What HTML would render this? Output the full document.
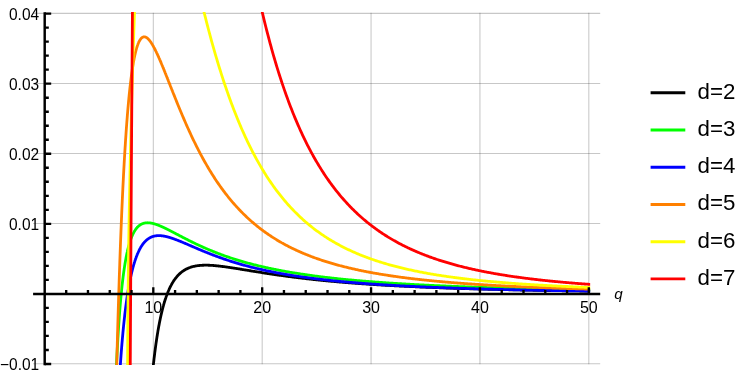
<!DOCTYPE html><html><head><meta charset="utf-8"><title>plot</title><style>
html,body{margin:0;padding:0;background:#fff;}
#w{position:relative;width:747px;height:375px;overflow:hidden;background:#fff;font-family:"Liberation Sans",sans-serif;color:#000;}
#tx{position:absolute;left:0;top:0;width:747px;height:375px;will-change:transform;}
.t{position:absolute;font-size:15.7px;line-height:16px;white-space:nowrap;transform:scaleY(1.05);transform-origin:50% 50%;}
.yl{width:39.15px;text-align:right;left:0;font-size:15.5px;}
.xl{width:40px;text-align:center;font-size:16px;}
.lg{position:absolute;font-size:22.3px;line-height:24px;left:697.5px;white-space:nowrap;}
</style></head><body><div id="w">
<svg width="747" height="375" viewBox="0 0 747 375" style="position:absolute;left:0;top:0">
<defs><clipPath id="c"><rect x="33.1" y="12.1" width="557.05" height="352.79999999999995"/></clipPath></defs>
<path d="M153.30,12.82 V364.27 M262.18,12.82 V364.27 M371.06,12.82 V364.27 M479.94,12.82 V364.27 M588.82,12.82 V364.27" stroke="#000" stroke-opacity="0.22" stroke-width="1.05" fill="none"/>
<path d="M33.1,13.37 H600.2 M33.1,83.44 H600.2 M33.1,153.51 H600.2 M33.1,223.58 H600.2 M33.1,363.72 H600.2" stroke="#000" stroke-opacity="0.22" stroke-width="1.05" fill="none"/>
<g clip-path="url(#c)" fill="none" stroke-width="2.8" stroke-linejoin="round">
<path d="M151.43,384.15 L151.51,383.18 L151.60,382.22 L151.69,381.27 L151.78,380.32 L151.87,379.38 L151.96,378.46 L152.05,377.54 L152.13,376.62 L152.22,375.72 L152.31,374.82 L152.40,373.94 L152.49,373.05 L152.58,372.18 L152.67,371.32 L152.75,370.46 L152.84,369.61 L152.93,368.77 L153.02,367.93 L153.11,367.10 L153.20,366.28 L153.29,365.47 L153.37,364.66 L153.46,363.86 L153.55,363.07 L153.64,362.28 L153.73,361.50 L153.82,360.73 L153.91,359.96 L153.99,359.20 L154.08,358.45 L154.17,357.70 L154.26,356.96 L154.35,356.22 L154.44,355.49 L154.53,354.77 L154.62,354.06 L154.70,353.35 L154.79,352.64 L154.88,351.94 L154.97,351.25 L155.06,350.57 L155.15,349.89 L155.24,349.21 L155.32,348.54 L155.41,347.88 L155.50,347.22 L155.59,346.57 L155.68,345.92 L155.77,345.28 L155.86,344.64 L155.94,344.01 L156.03,343.38 L156.12,342.76 L156.21,342.15 L156.30,341.54 L156.39,340.93 L156.48,340.33 L156.56,339.74 L156.65,339.15 L156.74,338.56 L156.83,337.98 L156.92,337.40 L157.01,336.83 L157.10,336.27 L157.18,335.70 L157.27,335.15 L157.36,334.59 L157.45,334.05 L157.54,333.50 L157.63,332.96 L157.72,332.43 L157.80,331.90 L157.89,331.37 L157.98,330.85 L158.07,330.33 L158.16,329.82 L158.25,329.31 L158.34,328.80 L158.42,328.30 L158.51,327.80 L158.60,327.31 L158.69,326.82 L158.78,326.34 L158.87,325.86 L158.96,325.38 L159.04,324.90 L159.13,324.43 L159.22,323.97 L159.31,323.51 L159.40,323.05 L159.49,322.59 L159.58,322.14 L159.66,321.69 L159.75,321.25 L159.84,320.81 L159.93,320.37 L160.02,319.94 L160.11,319.51 L160.20,319.08 L160.28,318.66 L160.37,318.23 L160.46,317.82 L160.55,317.40 L160.64,316.99 L160.73,316.59 L160.82,316.18 L160.90,315.78 L160.99,315.38 L161.08,314.99 L161.17,314.60 L161.26,314.21 L161.35,313.82 L161.44,313.44 L161.52,313.06 L161.61,312.69 L161.70,312.31 L161.79,311.94 L161.88,311.58 L161.97,311.21 L162.06,310.85 L162.14,310.49 L162.23,310.13 L162.32,309.78 L162.41,309.43 L162.50,309.08 L162.59,308.74 L162.68,308.39 L162.76,308.05 L162.85,307.71 L162.94,307.38 L163.03,307.05 L163.12,306.72 L163.21,306.39 L163.30,306.07 L163.38,305.74 L163.47,305.42 L163.56,305.11 L163.65,304.79 L163.74,304.48 L163.83,304.17 L163.92,303.86 L164.00,303.56 L164.09,303.25 L164.18,302.95 L164.27,302.65 L164.36,302.36 L164.45,302.06 L164.54,301.77 L164.62,301.48 L164.71,301.20 L164.80,300.91 L164.89,300.63 L164.98,300.35 L165.07,300.07 L165.16,299.79 L165.24,299.52 L165.33,299.25 L165.42,298.97 L165.51,298.71 L165.60,298.44 L165.69,298.18 L165.78,297.91 L165.86,297.65 L165.95,297.40 L166.04,297.14 L166.13,296.88 L166.22,296.63 L166.31,296.38 L166.40,296.13 L166.48,295.89 L166.57,295.64 L166.66,295.40 L166.75,295.16 L166.84,294.92 L166.93,294.68 L167.02,294.44 L167.10,294.21 L167.19,293.98 L167.28,293.75 L167.37,293.52 L167.46,293.29 L167.55,293.06 L167.64,292.84 L167.72,292.62 L167.81,292.40 L167.90,292.18 L167.99,291.96 L168.08,291.75 L168.17,291.53 L168.26,291.32 L168.34,291.11 L168.43,290.90 L168.52,290.69 L168.61,290.48 L168.70,290.28 L168.79,290.08 L168.88,289.87 L168.96,289.67 L169.05,289.48 L169.14,289.28 L169.23,289.08 L169.32,288.89 L169.41,288.69 L169.50,288.50 L169.58,288.31 L169.67,288.12 L169.76,287.94 L169.85,287.75 L169.94,287.57 L170.03,287.38 L170.12,287.20 L170.20,287.02 L170.29,286.84 L170.38,286.66 L170.47,286.49 L170.56,286.31 L170.65,286.14 L170.74,285.97 L170.82,285.79 L170.91,285.62 L171.00,285.46 L171.09,285.29 L171.18,285.12 L171.27,284.96 L171.36,284.79 L171.44,284.63 L171.53,284.47 L171.62,284.31 L171.71,284.15 L171.80,283.99 L171.89,283.83 L171.98,283.68 L172.06,283.52 L172.15,283.37 L172.24,283.22 L172.33,283.07 L172.42,282.92 L172.51,282.77 L172.60,282.62 L172.68,282.47 L172.77,282.33 L172.86,282.18 L172.95,282.04 L173.04,281.90 L173.13,281.75 L173.22,281.61 L173.30,281.47 L173.39,281.34 L173.48,281.20 L173.57,281.06 L173.66,280.93 L173.75,280.79 L173.84,280.66 L173.92,280.53 L174.01,280.39 L174.10,280.26 L174.19,280.13 L174.28,280.01 L174.37,279.88 L174.46,279.75 L174.54,279.63 L174.63,279.50 L174.72,279.38 L174.81,279.25 L174.90,279.13 L174.99,279.01 L175.08,278.89 L175.91,277.80 L176.75,276.78 L177.58,275.83 L178.41,274.95 L179.25,274.12 L180.08,273.35 L180.92,272.64 L181.75,271.97 L182.59,271.35 L183.42,270.78 L184.26,270.24 L185.09,269.75 L185.93,269.29 L186.76,268.86 L187.60,268.47 L188.43,268.11 L189.26,267.77 L190.10,267.47 L190.93,267.19 L191.77,266.93 L192.60,266.70 L193.44,266.48 L194.27,266.29 L195.11,266.12 L195.94,265.96 L196.78,265.82 L197.61,265.70 L198.44,265.60 L199.28,265.50 L200.11,265.42 L200.95,265.36 L201.78,265.31 L202.62,265.26 L203.45,265.23 L204.29,265.21 L205.12,265.20 L205.96,265.20 L206.79,265.21 L207.63,265.22 L208.46,265.24 L209.29,265.27 L210.13,265.31 L210.96,265.36 L211.80,265.41 L212.63,265.46 L213.47,265.52 L214.30,265.59 L215.14,265.66 L215.97,265.74 L216.81,265.82 L217.64,265.90 L218.48,265.99 L219.31,266.09 L220.14,266.18 L220.98,266.28 L221.81,266.38 L222.65,266.49 L223.48,266.60 L224.32,266.71 L225.15,266.82 L225.99,266.94 L226.82,267.05 L227.66,267.17 L228.49,267.29 L229.33,267.42 L230.16,267.54 L230.99,267.67 L231.83,267.79 L232.66,267.92 L233.50,268.05 L234.33,268.18 L235.17,268.31 L236.00,268.44 L236.84,268.58 L237.67,268.71 L238.51,268.84 L239.34,268.98 L240.17,269.11 L241.01,269.25 L241.84,269.38 L242.68,269.52 L243.51,269.66 L244.35,269.79 L245.18,269.93 L246.02,270.07 L246.85,270.20 L247.69,270.34 L248.52,270.48 L249.36,270.61 L250.19,270.75 L251.02,270.88 L251.86,271.02 L252.69,271.16 L253.53,271.29 L254.36,271.43 L255.20,271.56 L256.03,271.70 L256.87,271.83 L257.70,271.96 L258.54,272.10 L259.37,272.23 L260.21,272.36 L261.04,272.49 L261.87,272.63 L262.71,272.76 L263.54,272.89 L264.38,273.02 L265.21,273.15 L266.05,273.28 L266.88,273.40 L267.72,273.53 L268.55,273.66 L269.39,273.78 L270.22,273.91 L271.06,274.04 L271.89,274.16 L272.72,274.28 L273.56,274.41 L274.39,274.53 L275.23,274.65 L276.06,274.77 L276.90,274.89 L277.73,275.01 L278.57,275.13 L279.40,275.25 L280.24,275.37 L281.07,275.48 L281.90,275.60 L282.74,275.72 L283.57,275.83 L284.41,275.95 L285.24,276.06 L286.08,276.17 L286.91,276.28 L287.75,276.40 L288.58,276.51 L289.42,276.62 L290.25,276.73 L291.09,276.83 L291.92,276.94 L292.75,277.05 L293.59,277.16 L294.42,277.26 L295.26,277.37 L296.09,277.47 L296.93,277.57 L297.76,277.68 L298.60,277.78 L299.43,277.88 L300.27,277.98 L301.10,278.08 L301.94,278.18 L302.77,278.28 L303.60,278.38 L304.44,278.47 L305.27,278.57 L306.11,278.67 L306.94,278.76 L307.78,278.86 L308.61,278.95 L309.45,279.04 L310.28,279.14 L311.12,279.23 L311.95,279.32 L312.79,279.41 L313.62,279.50 L314.45,279.59 L315.29,279.68 L316.12,279.77 L316.96,279.85 L317.79,279.94 L318.63,280.03 L319.46,280.11 L320.30,280.20 L321.13,280.28 L321.97,280.37 L322.80,280.45 L323.64,280.53 L324.47,280.61 L325.30,280.69 L326.14,280.78 L326.97,280.86 L327.81,280.93 L328.64,281.01 L329.48,281.09 L330.31,281.17 L331.15,281.25 L331.98,281.32 L332.82,281.40 L333.65,281.48 L334.48,281.55 L335.32,281.63 L336.15,281.70 L336.99,281.77 L337.82,281.85 L338.66,281.92 L339.49,281.99 L340.33,282.06 L341.16,282.13 L342.00,282.20 L342.83,282.27 L343.67,282.34 L344.50,282.41 L345.33,282.48 L346.17,282.55 L347.00,282.61 L347.84,282.68 L348.67,282.75 L349.51,282.81 L350.34,282.88 L351.18,282.94 L352.01,283.01 L352.85,283.07 L353.68,283.13 L354.52,283.20 L355.35,283.26 L356.18,283.32 L357.02,283.38 L357.85,283.44 L358.69,283.50 L359.52,283.56 L360.36,283.62 L361.19,283.68 L362.03,283.74 L362.86,283.80 L363.70,283.86 L364.53,283.92 L365.37,283.97 L366.20,284.03 L367.03,284.09 L367.87,284.14 L368.70,284.20 L369.54,284.25 L370.37,284.31 L371.21,284.36 L372.04,284.42 L372.88,284.47 L373.71,284.52 L374.55,284.58 L375.38,284.63 L376.21,284.68 L377.05,284.73 L377.88,284.79 L378.72,284.84 L379.55,284.89 L380.39,284.94 L381.22,284.99 L382.06,285.04 L382.89,285.09 L383.73,285.14 L384.56,285.18 L385.40,285.23 L386.23,285.28 L387.06,285.33 L387.90,285.37 L388.73,285.42 L389.57,285.47 L390.40,285.51 L391.24,285.56 L392.07,285.61 L392.91,285.65 L393.74,285.70 L394.58,285.74 L395.41,285.78 L396.25,285.83 L397.08,285.87 L397.91,285.92 L398.75,285.96 L399.58,286.00 L400.42,286.04 L401.25,286.09 L402.09,286.13 L402.92,286.17 L403.76,286.21 L404.59,286.25 L405.43,286.29 L406.26,286.33 L407.10,286.37 L407.93,286.41 L408.76,286.45 L409.60,286.49 L410.43,286.53 L411.27,286.57 L412.10,286.61 L412.94,286.65 L413.77,286.69 L414.61,286.72 L415.44,286.76 L416.28,286.80 L417.11,286.84 L417.94,286.87 L418.78,286.91 L419.61,286.95 L420.45,286.98 L421.28,287.02 L422.12,287.05 L422.95,287.09 L423.79,287.12 L424.62,287.16 L425.46,287.19 L426.29,287.23 L427.13,287.26 L427.96,287.30 L428.79,287.33 L429.63,287.36 L430.46,287.40 L431.30,287.43 L432.13,287.46 L432.97,287.49 L433.80,287.53 L434.64,287.56 L435.47,287.59 L436.31,287.62 L437.14,287.65 L437.98,287.69 L438.81,287.72 L439.64,287.75 L440.48,287.78 L441.31,287.81 L442.15,287.84 L442.98,287.87 L443.82,287.90 L444.65,287.93 L445.49,287.96 L446.32,287.99 L447.16,288.02 L447.99,288.05 L448.83,288.08 L449.66,288.10 L450.49,288.13 L451.33,288.16 L452.16,288.19 L453.00,288.22 L453.83,288.24 L454.67,288.27 L455.50,288.30 L456.34,288.33 L457.17,288.35 L458.01,288.38 L458.84,288.41 L459.68,288.43 L460.51,288.46 L461.34,288.49 L462.18,288.51 L463.01,288.54 L463.85,288.56 L464.68,288.59 L465.52,288.61 L466.35,288.64 L467.19,288.66 L468.02,288.69 L468.86,288.71 L469.69,288.74 L470.52,288.76 L471.36,288.79 L472.19,288.81 L473.03,288.84 L473.86,288.86 L474.70,288.88 L475.53,288.91 L476.37,288.93 L477.20,288.95 L478.04,288.98 L478.87,289.00 L479.71,289.02 L480.54,289.04 L481.37,289.07 L482.21,289.09 L483.04,289.11 L483.88,289.13 L484.71,289.16 L485.55,289.18 L486.38,289.20 L487.22,289.22 L488.05,289.24 L488.89,289.26 L489.72,289.29 L490.56,289.31 L491.39,289.33 L492.22,289.35 L493.06,289.37 L493.89,289.39 L494.73,289.41 L495.56,289.43 L496.40,289.45 L497.23,289.47 L498.07,289.49 L498.90,289.51 L499.74,289.53 L500.57,289.55 L501.41,289.57 L502.24,289.59 L503.07,289.61 L503.91,289.63 L504.74,289.65 L505.58,289.66 L506.41,289.68 L507.25,289.70 L508.08,289.72 L508.92,289.74 L509.75,289.76 L510.59,289.78 L511.42,289.79 L512.25,289.81 L513.09,289.83 L513.92,289.85 L514.76,289.87 L515.59,289.88 L516.43,289.90 L517.26,289.92 L518.10,289.94 L518.93,289.95 L519.77,289.97 L520.60,289.99 L521.44,290.00 L522.27,290.02 L523.10,290.04 L523.94,290.05 L524.77,290.07 L525.61,290.09 L526.44,290.10 L527.28,290.12 L528.11,290.14 L528.95,290.15 L529.78,290.17 L530.62,290.18 L531.45,290.20 L532.29,290.22 L533.12,290.23 L533.95,290.25 L534.79,290.26 L535.62,290.28 L536.46,290.29 L537.29,290.31 L538.13,290.32 L538.96,290.34 L539.80,290.35 L540.63,290.37 L541.47,290.38 L542.30,290.40 L543.14,290.41 L543.97,290.43 L544.80,290.44 L545.64,290.46 L546.47,290.47 L547.31,290.49 L548.14,290.50 L548.98,290.51 L549.81,290.53 L550.65,290.54 L551.48,290.56 L552.32,290.57 L553.15,290.58 L553.98,290.60 L554.82,290.61 L555.65,290.62 L556.49,290.64 L557.32,290.65 L558.16,290.66 L558.99,290.68 L559.83,290.69 L560.66,290.70 L561.50,290.72 L562.33,290.73 L563.17,290.74 L564.00,290.75 L564.83,290.77 L565.67,290.78 L566.50,290.79 L567.34,290.80 L568.17,290.82 L569.01,290.83 L569.84,290.84 L570.68,290.85 L571.51,290.87 L572.35,290.88 L573.18,290.89 L574.02,290.90 L574.85,290.91 L575.68,290.93 L576.52,290.94 L577.35,290.95 L578.19,290.96 L579.02,290.97 L579.86,290.98 L580.69,291.00 L581.53,291.01 L582.36,291.02 L583.20,291.03 L584.03,291.04 L584.87,291.05 L585.70,291.06 L586.53,291.07 L587.37,291.09 L588.20,291.10 L589.04,291.11 L589.87,291.12 L590.71,291.13 L591.54,291.14" stroke="#000000"/>
<path d="M115.64,383.52 L115.73,381.42 L115.82,379.34 L115.91,377.30 L116.00,375.28 L116.08,373.29 L116.17,371.33 L116.26,369.40 L116.35,367.49 L116.44,365.61 L116.53,363.76 L116.62,361.93 L116.70,360.12 L116.79,358.34 L116.88,356.59 L116.97,354.86 L117.06,353.15 L117.15,351.47 L117.24,349.81 L117.32,348.17 L117.41,346.55 L117.50,344.96 L117.59,343.38 L117.68,341.83 L117.77,340.30 L117.86,338.79 L117.94,337.30 L118.03,335.83 L118.12,334.38 L118.21,332.95 L118.30,331.53 L118.39,330.14 L118.48,328.77 L118.56,327.41 L118.65,326.07 L118.74,324.75 L118.83,323.44 L118.92,322.16 L119.01,320.89 L119.10,319.63 L119.18,318.40 L119.27,317.18 L119.36,315.97 L119.45,314.78 L119.54,313.61 L119.63,312.45 L119.72,311.31 L119.80,310.18 L119.89,309.06 L119.98,307.96 L120.07,306.88 L120.16,305.81 L120.25,304.75 L120.34,303.70 L120.42,302.67 L120.51,301.65 L120.60,300.65 L120.69,299.66 L120.78,298.68 L120.87,297.71 L120.96,296.76 L121.04,295.81 L121.13,294.88 L121.22,293.96 L121.31,293.06 L121.40,292.16 L121.49,291.27 L121.58,290.40 L121.66,289.54 L121.75,288.69 L121.84,287.85 L121.93,287.01 L122.02,286.19 L122.11,285.38 L122.20,284.58 L122.28,283.79 L122.37,283.01 L122.46,282.24 L122.55,281.48 L122.64,280.73 L122.73,279.99 L122.82,279.25 L122.90,278.53 L122.99,277.81 L123.08,277.11 L123.17,276.41 L123.26,275.72 L123.35,275.04 L123.44,274.36 L123.52,273.70 L123.61,273.04 L123.70,272.40 L123.79,271.75 L123.88,271.12 L123.97,270.50 L124.06,269.88 L124.14,269.27 L124.23,268.67 L124.32,268.07 L124.41,267.48 L124.50,266.90 L124.59,266.33 L124.68,265.76 L124.76,265.20 L124.85,264.65 L124.94,264.10 L125.03,263.56 L125.12,263.03 L125.21,262.50 L125.30,261.98 L125.39,261.46 L125.47,260.96 L125.56,260.45 L125.65,259.96 L125.74,259.47 L125.83,258.98 L125.92,258.50 L126.01,258.03 L126.09,257.56 L126.18,257.10 L126.27,256.64 L126.36,256.19 L126.45,255.75 L126.54,255.31 L126.63,254.87 L126.71,254.44 L126.80,254.02 L126.89,253.60 L126.98,253.18 L127.07,252.77 L127.16,252.37 L127.25,251.97 L127.33,251.57 L127.42,251.18 L127.51,250.79 L127.60,250.41 L127.69,250.03 L127.78,249.66 L127.87,249.29 L127.95,248.93 L128.04,248.57 L128.13,248.21 L128.22,247.86 L128.31,247.52 L128.40,247.17 L128.49,246.83 L128.57,246.50 L128.66,246.17 L128.75,245.84 L128.84,245.52 L128.93,245.20 L129.02,244.88 L129.11,244.57 L129.19,244.26 L129.28,243.96 L129.37,243.66 L129.46,243.36 L129.55,243.07 L129.64,242.78 L129.73,242.49 L129.81,242.21 L129.90,241.93 L129.99,241.65 L130.08,241.38 L130.17,241.11 L130.26,240.84 L130.35,240.58 L130.43,240.32 L130.52,240.06 L130.61,239.80 L130.70,239.55 L130.79,239.30 L130.88,239.06 L130.97,238.82 L131.05,238.58 L131.14,238.34 L131.23,238.11 L131.32,237.87 L131.41,237.65 L131.50,237.42 L131.59,237.20 L131.67,236.98 L131.76,236.76 L131.85,236.54 L131.94,236.33 L132.03,236.12 L132.12,235.92 L132.21,235.71 L132.29,235.51 L132.38,235.31 L132.47,235.11 L132.56,234.92 L132.65,234.72 L132.74,234.53 L132.83,234.35 L132.91,234.16 L133.00,233.98 L133.09,233.80 L133.18,233.62 L133.27,233.44 L133.36,233.27 L133.45,233.09 L133.53,232.92 L133.62,232.76 L133.71,232.59 L133.80,232.43 L133.89,232.26 L133.98,232.10 L134.07,231.95 L134.15,231.79 L134.24,231.64 L134.33,231.49 L134.42,231.34 L134.51,231.19 L134.60,231.04 L134.69,230.90 L134.77,230.75 L134.86,230.61 L134.95,230.47 L135.04,230.34 L135.13,230.20 L135.22,230.07 L135.31,229.94 L135.39,229.81 L135.48,229.68 L135.57,229.55 L135.66,229.43 L135.75,229.30 L135.84,229.18 L135.93,229.06 L136.01,228.94 L136.10,228.83 L136.19,228.71 L136.28,228.60 L136.37,228.49 L136.46,228.37 L136.55,228.26 L136.63,228.16 L136.72,228.05 L136.81,227.95 L136.90,227.84 L136.99,227.74 L137.08,227.64 L137.17,227.54 L137.25,227.44 L137.34,227.35 L137.43,227.25 L137.52,227.16 L137.61,227.07 L137.70,226.97 L137.79,226.88 L137.87,226.80 L137.96,226.71 L138.05,226.62 L138.14,226.54 L138.23,226.46 L138.32,226.37 L138.41,226.29 L138.49,226.21 L138.58,226.13 L138.67,226.06 L138.76,225.98 L138.85,225.91 L138.94,225.83 L139.03,225.76 L139.11,225.69 L139.20,225.62 L139.29,225.55 L139.38,225.48 L139.47,225.41 L139.56,225.35 L139.65,225.28 L139.73,225.22 L139.82,225.15 L139.91,225.09 L140.00,225.03 L140.09,224.97 L140.18,224.91 L140.27,224.86 L140.35,224.80 L140.44,224.74 L140.53,224.69 L140.62,224.63 L140.71,224.58 L140.80,224.53 L140.89,224.48 L140.97,224.43 L141.06,224.38 L141.15,224.33 L141.24,224.28 L141.33,224.24 L141.42,224.19 L141.51,224.15 L141.59,224.10 L141.68,224.06 L141.77,224.02 L141.86,223.98 L141.95,223.93 L142.04,223.89 L142.13,223.86 L142.21,223.82 L142.30,223.78 L142.39,223.74 L142.48,223.71 L142.57,223.67 L142.66,223.64 L142.75,223.61 L142.83,223.57 L142.92,223.54 L143.01,223.51 L143.10,223.48 L143.19,223.45 L143.28,223.42 L143.37,223.39 L143.45,223.37 L143.54,223.34 L143.63,223.31 L143.72,223.29 L143.81,223.26 L143.90,223.24 L143.99,223.22 L144.07,223.19 L144.16,223.17 L144.25,223.15 L144.34,223.13 L144.43,223.11 L144.52,223.09 L144.61,223.07 L144.69,223.05 L144.78,223.04 L144.87,223.02 L144.96,223.00 L145.05,222.99 L145.14,222.97 L145.23,222.96 L145.31,222.94 L145.40,222.93 L145.49,222.92 L145.58,222.91 L145.67,222.89 L145.76,222.88 L145.85,222.87 L145.93,222.86 L146.02,222.85 L146.11,222.84 L146.20,222.84 L146.29,222.83 L146.38,222.82 L146.47,222.81 L146.55,222.81 L146.64,222.80 L146.73,222.80 L146.82,222.79 L146.91,222.79 L147.00,222.79 L147.09,222.78 L147.17,222.78 L147.26,222.78 L147.35,222.78 L147.44,222.77 L147.53,222.77 L147.62,222.77 L147.71,222.77 L147.79,222.77 L147.88,222.78 L147.97,222.78 L148.06,222.78 L148.15,222.78 L148.24,222.78 L148.33,222.79 L148.41,222.79 L148.50,222.80 L148.59,222.80 L148.68,222.81 L148.77,222.81 L148.86,222.82 L148.95,222.82 L149.03,222.83 L149.12,222.84 L149.21,222.84 L149.30,222.85 L149.39,222.86 L149.48,222.87 L149.57,222.88 L149.65,222.89 L149.74,222.90 L149.83,222.91 L149.92,222.92 L150.01,222.93 L150.10,222.94 L150.19,222.95 L150.27,222.96 L150.36,222.98 L150.45,222.99 L150.54,223.00 L150.63,223.02 L150.72,223.03 L150.81,223.04 L150.89,223.06 L150.98,223.07 L151.07,223.09 L151.16,223.10 L151.25,223.12 L151.34,223.14 L151.43,223.15 L151.51,223.17 L151.60,223.19 L151.69,223.20 L151.78,223.22 L151.87,223.24 L151.96,223.26 L152.05,223.28 L152.13,223.30 L152.22,223.31 L152.31,223.33 L152.40,223.35 L152.49,223.37 L152.58,223.39 L152.67,223.41 L152.75,223.44 L152.84,223.46 L152.93,223.48 L153.02,223.50 L153.11,223.52 L153.20,223.54 L153.29,223.57 L153.37,223.59 L153.46,223.61 L153.55,223.64 L153.64,223.66 L153.73,223.68 L153.82,223.71 L153.91,223.73 L153.99,223.76 L154.08,223.78 L154.17,223.81 L154.26,223.83 L154.35,223.86 L154.44,223.88 L154.53,223.91 L154.62,223.93 L154.70,223.96 L154.79,223.99 L154.88,224.01 L154.97,224.04 L155.06,224.07 L155.15,224.10 L155.24,224.12 L155.32,224.15 L155.41,224.18 L155.50,224.21 L155.59,224.24 L155.68,224.27 L155.77,224.29 L155.86,224.32 L155.94,224.35 L156.03,224.38 L156.12,224.41 L156.21,224.44 L156.30,224.47 L156.39,224.50 L156.48,224.53 L156.56,224.57 L156.65,224.60 L156.74,224.63 L156.83,224.66 L156.92,224.69 L157.01,224.72 L157.10,224.75 L157.18,224.79 L157.27,224.82 L157.36,224.85 L157.45,224.88 L157.54,224.92 L157.63,224.95 L157.72,224.98 L157.80,225.02 L157.89,225.05 L157.98,225.08 L158.07,225.12 L158.16,225.15 L158.25,225.18 L158.34,225.22 L158.42,225.25 L158.51,225.29 L158.60,225.32 L158.69,225.36 L158.78,225.39 L158.87,225.43 L158.96,225.46 L159.04,225.50 L159.13,225.53 L159.22,225.57 L159.31,225.60 L159.40,225.64 L159.49,225.68 L159.58,225.71 L159.66,225.75 L159.75,225.79 L159.84,225.82 L159.93,225.86 L160.02,225.90 L160.11,225.93 L160.20,225.97 L160.28,226.01 L160.37,226.05 L160.46,226.08 L160.55,226.12 L160.64,226.16 L160.73,226.20 L160.82,226.23 L160.90,226.27 L160.99,226.31 L161.08,226.35 L161.17,226.39 L161.26,226.43 L161.35,226.47 L161.44,226.50 L161.52,226.54 L161.61,226.58 L161.70,226.62 L161.79,226.66 L161.88,226.70 L161.97,226.74 L162.06,226.78 L162.14,226.82 L162.23,226.86 L162.32,226.90 L162.41,226.94 L162.50,226.98 L162.59,227.02 L162.68,227.06 L162.76,227.10 L162.85,227.14 L162.94,227.18 L163.03,227.22 L163.12,227.26 L163.21,227.30 L163.30,227.34 L163.38,227.39 L163.47,227.43 L163.56,227.47 L163.65,227.51 L163.74,227.55 L163.83,227.59 L163.92,227.63 L164.00,227.68 L164.09,227.72 L164.18,227.76 L164.27,227.80 L164.36,227.84 L164.45,227.88 L164.54,227.93 L164.62,227.97 L164.71,228.01 L164.80,228.05 L164.89,228.10 L164.98,228.14 L165.07,228.18 L165.16,228.22 L165.24,228.27 L165.33,228.31 L165.42,228.35 L165.51,228.40 L165.60,228.44 L165.69,228.48 L165.78,228.52 L165.86,228.57 L165.95,228.61 L166.04,228.65 L166.13,228.70 L166.22,228.74 L166.31,228.78 L166.40,228.83 L166.48,228.87 L166.57,228.91 L166.66,228.96 L166.75,229.00 L166.84,229.05 L166.93,229.09 L167.02,229.13 L167.10,229.18 L167.19,229.22 L167.28,229.27 L167.37,229.31 L167.46,229.35 L167.55,229.40 L167.64,229.44 L167.72,229.49 L167.81,229.53 L167.90,229.58 L167.99,229.62 L168.08,229.66 L168.17,229.71 L168.26,229.75 L168.34,229.80 L168.43,229.84 L168.52,229.89 L168.61,229.93 L168.70,229.98 L168.79,230.02 L168.88,230.07 L168.96,230.11 L169.05,230.16 L169.14,230.20 L169.23,230.25 L169.32,230.29 L169.41,230.34 L169.50,230.38 L169.58,230.43 L169.67,230.47 L169.76,230.52 L169.85,230.56 L169.94,230.61 L170.03,230.65 L170.12,230.70 L170.20,230.75 L170.29,230.79 L170.38,230.84 L170.47,230.88 L170.56,230.93 L170.65,230.97 L170.74,231.02 L170.82,231.06 L170.91,231.11 L171.00,231.16 L171.09,231.20 L171.18,231.25 L171.27,231.29 L171.36,231.34 L171.44,231.38 L171.53,231.43 L171.62,231.48 L171.71,231.52 L171.80,231.57 L171.89,231.61 L171.98,231.66 L172.06,231.71 L172.15,231.75 L172.24,231.80 L172.33,231.84 L172.42,231.89 L172.51,231.94 L172.60,231.98 L172.68,232.03 L172.77,232.07 L172.86,232.12 L172.95,232.17 L173.04,232.21 L173.13,232.26 L173.22,232.31 L173.30,232.35 L173.39,232.40 L173.48,232.44 L173.57,232.49 L173.66,232.54 L173.75,232.58 L173.84,232.63 L173.92,232.68 L174.01,232.72 L174.10,232.77 L174.19,232.82 L174.28,232.86 L174.37,232.91 L174.46,232.95 L174.54,233.00 L174.63,233.05 L174.72,233.09 L174.81,233.14 L174.90,233.19 L174.99,233.23 L175.08,233.28 L175.91,233.72 L176.75,234.16 L177.58,234.59 L178.41,235.03 L179.25,235.47 L180.08,235.91 L180.92,236.34 L181.75,236.78 L182.59,237.21 L183.42,237.65 L184.26,238.08 L185.09,238.51 L185.93,238.93 L186.76,239.36 L187.60,239.78 L188.43,240.21 L189.26,240.63 L190.10,241.04 L190.93,241.46 L191.77,241.87 L192.60,242.28 L193.44,242.69 L194.27,243.09 L195.11,243.49 L195.94,243.89 L196.78,244.29 L197.61,244.68 L198.44,245.07 L199.28,245.46 L200.11,245.84 L200.95,246.22 L201.78,246.60 L202.62,246.98 L203.45,247.35 L204.29,247.72 L205.12,248.09 L205.96,248.45 L206.79,248.81 L207.63,249.17 L208.46,249.52 L209.29,249.88 L210.13,250.22 L210.96,250.57 L211.80,250.91 L212.63,251.25 L213.47,251.59 L214.30,251.92 L215.14,252.25 L215.97,252.58 L216.81,252.91 L217.64,253.23 L218.48,253.55 L219.31,253.86 L220.14,254.17 L220.98,254.48 L221.81,254.79 L222.65,255.10 L223.48,255.40 L224.32,255.70 L225.15,255.99 L225.99,256.29 L226.82,256.58 L227.66,256.86 L228.49,257.15 L229.33,257.43 L230.16,257.71 L230.99,257.99 L231.83,258.26 L232.66,258.53 L233.50,258.80 L234.33,259.07 L235.17,259.33 L236.00,259.60 L236.84,259.86 L237.67,260.11 L238.51,260.37 L239.34,260.62 L240.17,260.87 L241.01,261.12 L241.84,261.36 L242.68,261.60 L243.51,261.84 L244.35,262.08 L245.18,262.32 L246.02,262.55 L246.85,262.78 L247.69,263.01 L248.52,263.24 L249.36,263.46 L250.19,263.69 L251.02,263.91 L251.86,264.13 L252.69,264.34 L253.53,264.56 L254.36,264.77 L255.20,264.98 L256.03,265.19 L256.87,265.39 L257.70,265.60 L258.54,265.80 L259.37,266.00 L260.21,266.20 L261.04,266.40 L261.87,266.59 L262.71,266.79 L263.54,266.98 L264.38,267.17 L265.21,267.35 L266.05,267.54 L266.88,267.73 L267.72,267.91 L268.55,268.09 L269.39,268.27 L270.22,268.45 L271.06,268.62 L271.89,268.80 L272.72,268.97 L273.56,269.14 L274.39,269.31 L275.23,269.48 L276.06,269.65 L276.90,269.81 L277.73,269.98 L278.57,270.14 L279.40,270.30 L280.24,270.46 L281.07,270.62 L281.90,270.77 L282.74,270.93 L283.57,271.08 L284.41,271.23 L285.24,271.38 L286.08,271.53 L286.91,271.68 L287.75,271.83 L288.58,271.97 L289.42,272.12 L290.25,272.26 L291.09,272.40 L291.92,272.54 L292.75,272.68 L293.59,272.82 L294.42,272.96 L295.26,273.09 L296.09,273.23 L296.93,273.36 L297.76,273.49 L298.60,273.62 L299.43,273.75 L300.27,273.88 L301.10,274.01 L301.94,274.14 L302.77,274.26 L303.60,274.39 L304.44,274.51 L305.27,274.63 L306.11,274.75 L306.94,274.87 L307.78,274.99 L308.61,275.11 L309.45,275.23 L310.28,275.34 L311.12,275.46 L311.95,275.57 L312.79,275.69 L313.62,275.80 L314.45,275.91 L315.29,276.02 L316.12,276.13 L316.96,276.24 L317.79,276.35 L318.63,276.45 L319.46,276.56 L320.30,276.66 L321.13,276.77 L321.97,276.87 L322.80,276.97 L323.64,277.07 L324.47,277.18 L325.30,277.28 L326.14,277.37 L326.97,277.47 L327.81,277.57 L328.64,277.67 L329.48,277.76 L330.31,277.86 L331.15,277.95 L331.98,278.05 L332.82,278.14 L333.65,278.23 L334.48,278.32 L335.32,278.41 L336.15,278.50 L336.99,278.59 L337.82,278.68 L338.66,278.77 L339.49,278.85 L340.33,278.94 L341.16,279.03 L342.00,279.11 L342.83,279.20 L343.67,279.28 L344.50,279.36 L345.33,279.45 L346.17,279.53 L347.00,279.61 L347.84,279.69 L348.67,279.77 L349.51,279.85 L350.34,279.93 L351.18,280.00 L352.01,280.08 L352.85,280.16 L353.68,280.23 L354.52,280.31 L355.35,280.39 L356.18,280.46 L357.02,280.53 L357.85,280.61 L358.69,280.68 L359.52,280.75 L360.36,280.82 L361.19,280.90 L362.03,280.97 L362.86,281.04 L363.70,281.11 L364.53,281.17 L365.37,281.24 L366.20,281.31 L367.03,281.38 L367.87,281.45 L368.70,281.51 L369.54,281.58 L370.37,281.64 L371.21,281.71 L372.04,281.77 L372.88,281.84 L373.71,281.90 L374.55,281.97 L375.38,282.03 L376.21,282.09 L377.05,282.15 L377.88,282.21 L378.72,282.27 L379.55,282.33 L380.39,282.39 L381.22,282.45 L382.06,282.51 L382.89,282.57 L383.73,282.63 L384.56,282.69 L385.40,282.75 L386.23,282.80 L387.06,282.86 L387.90,282.92 L388.73,282.97 L389.57,283.03 L390.40,283.08 L391.24,283.14 L392.07,283.19 L392.91,283.25 L393.74,283.30 L394.58,283.35 L395.41,283.41 L396.25,283.46 L397.08,283.51 L397.91,283.56 L398.75,283.61 L399.58,283.67 L400.42,283.72 L401.25,283.77 L402.09,283.82 L402.92,283.87 L403.76,283.92 L404.59,283.96 L405.43,284.01 L406.26,284.06 L407.10,284.11 L407.93,284.16 L408.76,284.20 L409.60,284.25 L410.43,284.30 L411.27,284.34 L412.10,284.39 L412.94,284.44 L413.77,284.48 L414.61,284.53 L415.44,284.57 L416.28,284.62 L417.11,284.66 L417.94,284.70 L418.78,284.75 L419.61,284.79 L420.45,284.84 L421.28,284.88 L422.12,284.92 L422.95,284.96 L423.79,285.00 L424.62,285.05 L425.46,285.09 L426.29,285.13 L427.13,285.17 L427.96,285.21 L428.79,285.25 L429.63,285.29 L430.46,285.33 L431.30,285.37 L432.13,285.41 L432.97,285.45 L433.80,285.49 L434.64,285.53 L435.47,285.57 L436.31,285.60 L437.14,285.64 L437.98,285.68 L438.81,285.72 L439.64,285.75 L440.48,285.79 L441.31,285.83 L442.15,285.86 L442.98,285.90 L443.82,285.94 L444.65,285.97 L445.49,286.01 L446.32,286.04 L447.16,286.08 L447.99,286.11 L448.83,286.15 L449.66,286.18 L450.49,286.22 L451.33,286.25 L452.16,286.28 L453.00,286.32 L453.83,286.35 L454.67,286.38 L455.50,286.42 L456.34,286.45 L457.17,286.48 L458.01,286.51 L458.84,286.55 L459.68,286.58 L460.51,286.61 L461.34,286.64 L462.18,286.67 L463.01,286.70 L463.85,286.74 L464.68,286.77 L465.52,286.80 L466.35,286.83 L467.19,286.86 L468.02,286.89 L468.86,286.92 L469.69,286.95 L470.52,286.98 L471.36,287.01 L472.19,287.04 L473.03,287.07 L473.86,287.09 L474.70,287.12 L475.53,287.15 L476.37,287.18 L477.20,287.21 L478.04,287.24 L478.87,287.26 L479.71,287.29 L480.54,287.32 L481.37,287.35 L482.21,287.37 L483.04,287.40 L483.88,287.43 L484.71,287.46 L485.55,287.48 L486.38,287.51 L487.22,287.53 L488.05,287.56 L488.89,287.59 L489.72,287.61 L490.56,287.64 L491.39,287.66 L492.22,287.69 L493.06,287.71 L493.89,287.74 L494.73,287.77 L495.56,287.79 L496.40,287.81 L497.23,287.84 L498.07,287.86 L498.90,287.89 L499.74,287.91 L500.57,287.94 L501.41,287.96 L502.24,287.98 L503.07,288.01 L503.91,288.03 L504.74,288.05 L505.58,288.08 L506.41,288.10 L507.25,288.12 L508.08,288.15 L508.92,288.17 L509.75,288.19 L510.59,288.21 L511.42,288.24 L512.25,288.26 L513.09,288.28 L513.92,288.30 L514.76,288.32 L515.59,288.35 L516.43,288.37 L517.26,288.39 L518.10,288.41 L518.93,288.43 L519.77,288.45 L520.60,288.47 L521.44,288.50 L522.27,288.52 L523.10,288.54 L523.94,288.56 L524.77,288.58 L525.61,288.60 L526.44,288.62 L527.28,288.64 L528.11,288.66 L528.95,288.68 L529.78,288.70 L530.62,288.72 L531.45,288.74 L532.29,288.76 L533.12,288.78 L533.95,288.80 L534.79,288.82 L535.62,288.84 L536.46,288.85 L537.29,288.87 L538.13,288.89 L538.96,288.91 L539.80,288.93 L540.63,288.95 L541.47,288.97 L542.30,288.98 L543.14,289.00 L543.97,289.02 L544.80,289.04 L545.64,289.06 L546.47,289.07 L547.31,289.09 L548.14,289.11 L548.98,289.13 L549.81,289.15 L550.65,289.16 L551.48,289.18 L552.32,289.20 L553.15,289.21 L553.98,289.23 L554.82,289.25 L555.65,289.27 L556.49,289.28 L557.32,289.30 L558.16,289.32 L558.99,289.33 L559.83,289.35 L560.66,289.36 L561.50,289.38 L562.33,289.40 L563.17,289.41 L564.00,289.43 L564.83,289.45 L565.67,289.46 L566.50,289.48 L567.34,289.49 L568.17,289.51 L569.01,289.52 L569.84,289.54 L570.68,289.56 L571.51,289.57 L572.35,289.59 L573.18,289.60 L574.02,289.62 L574.85,289.63 L575.68,289.65 L576.52,289.66 L577.35,289.68 L578.19,289.69 L579.02,289.71 L579.86,289.72 L580.69,289.73 L581.53,289.75 L582.36,289.76 L583.20,289.78 L584.03,289.79 L584.87,289.81 L585.70,289.82 L586.53,289.83 L587.37,289.85 L588.20,289.86 L589.04,289.88 L589.87,289.89 L590.71,289.90 L591.54,289.92" stroke="#00ff00"/>
<path d="M119.18,383.54 L119.27,382.03 L119.36,380.54 L119.45,379.06 L119.54,377.60 L119.63,376.16 L119.72,374.73 L119.80,373.33 L119.89,371.93 L119.98,370.56 L120.07,369.20 L120.16,367.86 L120.25,366.53 L120.34,365.22 L120.42,363.92 L120.51,362.64 L120.60,361.37 L120.69,360.12 L120.78,358.88 L120.87,357.66 L120.96,356.45 L121.04,355.25 L121.13,354.06 L121.22,352.89 L121.31,351.74 L121.40,350.59 L121.49,349.46 L121.58,348.34 L121.66,347.23 L121.75,346.14 L121.84,345.05 L121.93,343.98 L122.02,342.92 L122.11,341.87 L122.20,340.83 L122.28,339.81 L122.37,338.79 L122.46,337.79 L122.55,336.79 L122.64,335.81 L122.73,334.84 L122.82,333.87 L122.90,332.92 L122.99,331.98 L123.08,331.04 L123.17,330.12 L123.26,329.21 L123.35,328.30 L123.44,327.41 L123.52,326.52 L123.61,325.64 L123.70,324.77 L123.79,323.91 L123.88,323.06 L123.97,322.22 L124.06,321.39 L124.14,320.56 L124.23,319.74 L124.32,318.94 L124.41,318.13 L124.50,317.34 L124.59,316.56 L124.68,315.78 L124.76,315.01 L124.85,314.25 L124.94,313.49 L125.03,312.74 L125.12,312.00 L125.21,311.27 L125.30,310.55 L125.39,309.83 L125.47,309.11 L125.56,308.41 L125.65,307.71 L125.74,307.02 L125.83,306.33 L125.92,305.66 L126.01,304.98 L126.09,304.32 L126.18,303.66 L126.27,303.01 L126.36,302.36 L126.45,301.72 L126.54,301.08 L126.63,300.45 L126.71,299.83 L126.80,299.21 L126.89,298.60 L126.98,298.00 L127.07,297.40 L127.16,296.80 L127.25,296.21 L127.33,295.63 L127.42,295.05 L127.51,294.48 L127.60,293.91 L127.69,293.35 L127.78,292.79 L127.87,292.24 L127.95,291.69 L128.04,291.15 L128.13,290.61 L128.22,290.08 L128.31,289.55 L128.40,289.03 L128.49,288.51 L128.57,288.00 L128.66,287.49 L128.75,286.99 L128.84,286.49 L128.93,285.99 L129.02,285.50 L129.11,285.02 L129.19,284.53 L129.28,284.06 L129.37,283.58 L129.46,283.11 L129.55,282.65 L129.64,282.19 L129.73,281.73 L129.81,281.28 L129.90,280.83 L129.99,280.39 L130.08,279.95 L130.17,279.51 L130.26,279.08 L130.35,278.65 L130.43,278.22 L130.52,277.80 L130.61,277.38 L130.70,276.97 L130.79,276.56 L130.88,276.15 L130.97,275.75 L131.05,275.35 L131.14,274.95 L131.23,274.56 L131.32,274.17 L131.41,273.78 L131.50,273.40 L131.59,273.02 L131.67,272.65 L131.76,272.27 L131.85,271.90 L131.94,271.54 L132.03,271.17 L132.12,270.82 L132.21,270.46 L132.29,270.10 L132.38,269.75 L132.47,269.41 L132.56,269.06 L132.65,268.72 L132.74,268.38 L132.83,268.05 L132.91,267.72 L133.00,267.39 L133.09,267.06 L133.18,266.73 L133.27,266.41 L133.36,266.10 L133.45,265.78 L133.53,265.47 L133.62,265.16 L133.71,264.85 L133.80,264.54 L133.89,264.24 L133.98,263.94 L134.07,263.65 L134.15,263.35 L134.24,263.06 L134.33,262.77 L134.42,262.48 L134.51,262.20 L134.60,261.92 L134.69,261.64 L134.77,261.36 L134.86,261.09 L134.95,260.82 L135.04,260.55 L135.13,260.28 L135.22,260.01 L135.31,259.75 L135.39,259.49 L135.48,259.23 L135.57,258.98 L135.66,258.72 L135.75,258.47 L135.84,258.22 L135.93,257.98 L136.01,257.73 L136.10,257.49 L136.19,257.25 L136.28,257.01 L136.37,256.77 L136.46,256.54 L136.55,256.31 L136.63,256.08 L136.72,255.85 L136.81,255.62 L136.90,255.40 L136.99,255.18 L137.08,254.96 L137.17,254.74 L137.25,254.52 L137.34,254.31 L137.43,254.09 L137.52,253.88 L137.61,253.68 L137.70,253.47 L137.79,253.26 L137.87,253.06 L137.96,252.86 L138.05,252.66 L138.14,252.46 L138.23,252.26 L138.32,252.07 L138.41,251.88 L138.49,251.69 L138.58,251.50 L138.67,251.31 L138.76,251.12 L138.85,250.94 L138.94,250.76 L139.03,250.58 L139.11,250.40 L139.20,250.22 L139.29,250.04 L139.38,249.87 L139.47,249.70 L139.56,249.53 L139.65,249.36 L139.73,249.19 L139.82,249.02 L139.91,248.86 L140.00,248.69 L140.09,248.53 L140.18,248.37 L140.27,248.21 L140.35,248.05 L140.44,247.90 L140.53,247.74 L140.62,247.59 L140.71,247.44 L140.80,247.29 L140.89,247.14 L140.97,246.99 L141.06,246.85 L141.15,246.70 L141.24,246.56 L141.33,246.42 L141.42,246.28 L141.51,246.14 L141.59,246.00 L141.68,245.86 L141.77,245.73 L141.86,245.59 L141.95,245.46 L142.04,245.33 L142.13,245.20 L142.21,245.07 L142.30,244.94 L142.39,244.81 L142.48,244.69 L142.57,244.56 L142.66,244.44 L142.75,244.32 L142.83,244.20 L142.92,244.08 L143.01,243.96 L143.10,243.84 L143.19,243.73 L143.28,243.61 L143.37,243.50 L143.45,243.39 L143.54,243.28 L143.63,243.17 L143.72,243.06 L143.81,242.95 L143.90,242.84 L143.99,242.74 L144.07,242.63 L144.16,242.53 L144.25,242.42 L144.34,242.32 L144.43,242.22 L144.52,242.12 L144.61,242.02 L144.69,241.93 L144.78,241.83 L144.87,241.74 L144.96,241.64 L145.05,241.55 L145.14,241.46 L145.23,241.36 L145.31,241.27 L145.40,241.18 L145.49,241.10 L145.58,241.01 L145.67,240.92 L145.76,240.84 L145.85,240.75 L145.93,240.67 L146.02,240.58 L146.11,240.50 L146.20,240.42 L146.29,240.34 L146.38,240.26 L146.47,240.18 L146.55,240.11 L146.64,240.03 L146.73,239.95 L146.82,239.88 L146.91,239.80 L147.00,239.73 L147.09,239.66 L147.17,239.59 L147.26,239.52 L147.35,239.45 L147.44,239.38 L147.53,239.31 L147.62,239.24 L147.71,239.17 L147.79,239.11 L147.88,239.04 L147.97,238.98 L148.06,238.92 L148.15,238.85 L148.24,238.79 L148.33,238.73 L148.41,238.67 L148.50,238.61 L148.59,238.55 L148.68,238.49 L148.77,238.43 L148.86,238.38 L148.95,238.32 L149.03,238.27 L149.12,238.21 L149.21,238.16 L149.30,238.10 L149.39,238.05 L149.48,238.00 L149.57,237.95 L149.65,237.90 L149.74,237.85 L149.83,237.80 L149.92,237.75 L150.01,237.70 L150.10,237.66 L150.19,237.61 L150.27,237.57 L150.36,237.52 L150.45,237.48 L150.54,237.43 L150.63,237.39 L150.72,237.35 L150.81,237.30 L150.89,237.26 L150.98,237.22 L151.07,237.18 L151.16,237.14 L151.25,237.10 L151.34,237.07 L151.43,237.03 L151.51,236.99 L151.60,236.95 L151.69,236.92 L151.78,236.88 L151.87,236.85 L151.96,236.81 L152.05,236.78 L152.13,236.75 L152.22,236.72 L152.31,236.68 L152.40,236.65 L152.49,236.62 L152.58,236.59 L152.67,236.56 L152.75,236.53 L152.84,236.50 L152.93,236.48 L153.02,236.45 L153.11,236.42 L153.20,236.39 L153.29,236.37 L153.37,236.34 L153.46,236.32 L153.55,236.29 L153.64,236.27 L153.73,236.25 L153.82,236.22 L153.91,236.20 L153.99,236.18 L154.08,236.16 L154.17,236.14 L154.26,236.12 L154.35,236.10 L154.44,236.08 L154.53,236.06 L154.62,236.04 L154.70,236.02 L154.79,236.00 L154.88,235.98 L154.97,235.97 L155.06,235.95 L155.15,235.93 L155.24,235.92 L155.32,235.90 L155.41,235.89 L155.50,235.88 L155.59,235.86 L155.68,235.85 L155.77,235.83 L155.86,235.82 L155.94,235.81 L156.03,235.80 L156.12,235.79 L156.21,235.78 L156.30,235.77 L156.39,235.76 L156.48,235.75 L156.56,235.74 L156.65,235.73 L156.74,235.72 L156.83,235.71 L156.92,235.70 L157.01,235.70 L157.10,235.69 L157.18,235.68 L157.27,235.68 L157.36,235.67 L157.45,235.66 L157.54,235.66 L157.63,235.65 L157.72,235.65 L157.80,235.65 L157.89,235.64 L157.98,235.64 L158.07,235.64 L158.16,235.63 L158.25,235.63 L158.34,235.63 L158.42,235.63 L158.51,235.63 L158.60,235.63 L158.69,235.62 L158.78,235.62 L158.87,235.62 L158.96,235.62 L159.04,235.63 L159.13,235.63 L159.22,235.63 L159.31,235.63 L159.40,235.63 L159.49,235.63 L159.58,235.64 L159.66,235.64 L159.75,235.64 L159.84,235.65 L159.93,235.65 L160.02,235.65 L160.11,235.66 L160.20,235.66 L160.28,235.67 L160.37,235.67 L160.46,235.68 L160.55,235.69 L160.64,235.69 L160.73,235.70 L160.82,235.70 L160.90,235.71 L160.99,235.72 L161.08,235.73 L161.17,235.73 L161.26,235.74 L161.35,235.75 L161.44,235.76 L161.52,235.77 L161.61,235.78 L161.70,235.79 L161.79,235.80 L161.88,235.81 L161.97,235.82 L162.06,235.83 L162.14,235.84 L162.23,235.85 L162.32,235.86 L162.41,235.87 L162.50,235.88 L162.59,235.90 L162.68,235.91 L162.76,235.92 L162.85,235.93 L162.94,235.95 L163.03,235.96 L163.12,235.97 L163.21,235.99 L163.30,236.00 L163.38,236.01 L163.47,236.03 L163.56,236.04 L163.65,236.06 L163.74,236.07 L163.83,236.09 L163.92,236.10 L164.00,236.12 L164.09,236.13 L164.18,236.15 L164.27,236.17 L164.36,236.18 L164.45,236.20 L164.54,236.22 L164.62,236.23 L164.71,236.25 L164.80,236.27 L164.89,236.29 L164.98,236.30 L165.07,236.32 L165.16,236.34 L165.24,236.36 L165.33,236.38 L165.42,236.40 L165.51,236.42 L165.60,236.43 L165.69,236.45 L165.78,236.47 L165.86,236.49 L165.95,236.51 L166.04,236.53 L166.13,236.55 L166.22,236.57 L166.31,236.60 L166.40,236.62 L166.48,236.64 L166.57,236.66 L166.66,236.68 L166.75,236.70 L166.84,236.72 L166.93,236.74 L167.02,236.77 L167.10,236.79 L167.19,236.81 L167.28,236.83 L167.37,236.86 L167.46,236.88 L167.55,236.90 L167.64,236.93 L167.72,236.95 L167.81,236.97 L167.90,237.00 L167.99,237.02 L168.08,237.04 L168.17,237.07 L168.26,237.09 L168.34,237.12 L168.43,237.14 L168.52,237.17 L168.61,237.19 L168.70,237.22 L168.79,237.24 L168.88,237.27 L168.96,237.29 L169.05,237.32 L169.14,237.34 L169.23,237.37 L169.32,237.39 L169.41,237.42 L169.50,237.45 L169.58,237.47 L169.67,237.50 L169.76,237.53 L169.85,237.55 L169.94,237.58 L170.03,237.61 L170.12,237.63 L170.20,237.66 L170.29,237.69 L170.38,237.72 L170.47,237.74 L170.56,237.77 L170.65,237.80 L170.74,237.83 L170.82,237.86 L170.91,237.88 L171.00,237.91 L171.09,237.94 L171.18,237.97 L171.27,238.00 L171.36,238.03 L171.44,238.06 L171.53,238.09 L171.62,238.11 L171.71,238.14 L171.80,238.17 L171.89,238.20 L171.98,238.23 L172.06,238.26 L172.15,238.29 L172.24,238.32 L172.33,238.35 L172.42,238.38 L172.51,238.41 L172.60,238.44 L172.68,238.47 L172.77,238.50 L172.86,238.53 L172.95,238.56 L173.04,238.59 L173.13,238.63 L173.22,238.66 L173.30,238.69 L173.39,238.72 L173.48,238.75 L173.57,238.78 L173.66,238.81 L173.75,238.84 L173.84,238.88 L173.92,238.91 L174.01,238.94 L174.10,238.97 L174.19,239.00 L174.28,239.03 L174.37,239.07 L174.46,239.10 L174.54,239.13 L174.63,239.16 L174.72,239.20 L174.81,239.23 L174.90,239.26 L174.99,239.29 L175.08,239.33 L175.91,239.64 L176.75,239.96 L177.58,240.28 L178.41,240.61 L179.25,240.94 L180.08,241.28 L180.92,241.62 L181.75,241.97 L182.59,242.32 L183.42,242.67 L184.26,243.02 L185.09,243.37 L185.93,243.73 L186.76,244.09 L187.60,244.45 L188.43,244.81 L189.26,245.17 L190.10,245.53 L190.93,245.89 L191.77,246.25 L192.60,246.61 L193.44,246.97 L194.27,247.33 L195.11,247.68 L195.94,248.04 L196.78,248.40 L197.61,248.75 L198.44,249.11 L199.28,249.46 L200.11,249.81 L200.95,250.16 L201.78,250.51 L202.62,250.86 L203.45,251.20 L204.29,251.54 L205.12,251.89 L205.96,252.22 L206.79,252.56 L207.63,252.90 L208.46,253.23 L209.29,253.56 L210.13,253.89 L210.96,254.21 L211.80,254.54 L212.63,254.86 L213.47,255.18 L214.30,255.50 L215.14,255.81 L215.97,256.12 L216.81,256.43 L217.64,256.74 L218.48,257.04 L219.31,257.35 L220.14,257.65 L220.98,257.94 L221.81,258.24 L222.65,258.53 L223.48,258.82 L224.32,259.11 L225.15,259.39 L225.99,259.68 L226.82,259.96 L227.66,260.24 L228.49,260.51 L229.33,260.78 L230.16,261.05 L230.99,261.32 L231.83,261.59 L232.66,261.85 L233.50,262.11 L234.33,262.37 L235.17,262.63 L236.00,262.88 L236.84,263.13 L237.67,263.38 L238.51,263.63 L239.34,263.87 L240.17,264.11 L241.01,264.35 L241.84,264.59 L242.68,264.83 L243.51,265.06 L244.35,265.29 L245.18,265.52 L246.02,265.75 L246.85,265.97 L247.69,266.20 L248.52,266.42 L249.36,266.63 L250.19,266.85 L251.02,267.07 L251.86,267.28 L252.69,267.49 L253.53,267.70 L254.36,267.90 L255.20,268.11 L256.03,268.31 L256.87,268.51 L257.70,268.71 L258.54,268.90 L259.37,269.10 L260.21,269.29 L261.04,269.48 L261.87,269.67 L262.71,269.86 L263.54,270.04 L264.38,270.23 L265.21,270.41 L266.05,270.59 L266.88,270.77 L267.72,270.95 L268.55,271.12 L269.39,271.29 L270.22,271.47 L271.06,271.64 L271.89,271.80 L272.72,271.97 L273.56,272.14 L274.39,272.30 L275.23,272.46 L276.06,272.62 L276.90,272.78 L277.73,272.94 L278.57,273.10 L279.40,273.25 L280.24,273.40 L281.07,273.56 L281.90,273.71 L282.74,273.86 L283.57,274.00 L284.41,274.15 L285.24,274.29 L286.08,274.44 L286.91,274.58 L287.75,274.72 L288.58,274.86 L289.42,275.00 L290.25,275.14 L291.09,275.27 L291.92,275.41 L292.75,275.54 L293.59,275.67 L294.42,275.80 L295.26,275.93 L296.09,276.06 L296.93,276.19 L297.76,276.31 L298.60,276.44 L299.43,276.56 L300.27,276.68 L301.10,276.80 L301.94,276.92 L302.77,277.04 L303.60,277.16 L304.44,277.28 L305.27,277.39 L306.11,277.51 L306.94,277.62 L307.78,277.74 L308.61,277.85 L309.45,277.96 L310.28,278.07 L311.12,278.18 L311.95,278.29 L312.79,278.39 L313.62,278.50 L314.45,278.60 L315.29,278.71 L316.12,278.81 L316.96,278.91 L317.79,279.01 L318.63,279.11 L319.46,279.21 L320.30,279.31 L321.13,279.41 L321.97,279.51 L322.80,279.60 L323.64,279.70 L324.47,279.79 L325.30,279.89 L326.14,279.98 L326.97,280.07 L327.81,280.16 L328.64,280.25 L329.48,280.34 L330.31,280.43 L331.15,280.52 L331.98,280.61 L332.82,280.69 L333.65,280.78 L334.48,280.86 L335.32,280.95 L336.15,281.03 L336.99,281.11 L337.82,281.20 L338.66,281.28 L339.49,281.36 L340.33,281.44 L341.16,281.52 L342.00,281.60 L342.83,281.68 L343.67,281.75 L344.50,281.83 L345.33,281.91 L346.17,281.98 L347.00,282.06 L347.84,282.13 L348.67,282.20 L349.51,282.28 L350.34,282.35 L351.18,282.42 L352.01,282.49 L352.85,282.56 L353.68,282.63 L354.52,282.70 L355.35,282.77 L356.18,282.84 L357.02,282.91 L357.85,282.98 L358.69,283.04 L359.52,283.11 L360.36,283.18 L361.19,283.24 L362.03,283.30 L362.86,283.37 L363.70,283.43 L364.53,283.50 L365.37,283.56 L366.20,283.62 L367.03,283.68 L367.87,283.74 L368.70,283.80 L369.54,283.86 L370.37,283.92 L371.21,283.98 L372.04,284.04 L372.88,284.10 L373.71,284.16 L374.55,284.21 L375.38,284.27 L376.21,284.33 L377.05,284.38 L377.88,284.44 L378.72,284.49 L379.55,284.55 L380.39,284.60 L381.22,284.66 L382.06,284.71 L382.89,284.76 L383.73,284.82 L384.56,284.87 L385.40,284.92 L386.23,284.97 L387.06,285.02 L387.90,285.07 L388.73,285.12 L389.57,285.17 L390.40,285.22 L391.24,285.27 L392.07,285.32 L392.91,285.37 L393.74,285.42 L394.58,285.46 L395.41,285.51 L396.25,285.56 L397.08,285.61 L397.91,285.65 L398.75,285.70 L399.58,285.74 L400.42,285.79 L401.25,285.83 L402.09,285.88 L402.92,285.92 L403.76,285.97 L404.59,286.01 L405.43,286.05 L406.26,286.10 L407.10,286.14 L407.93,286.18 L408.76,286.22 L409.60,286.26 L410.43,286.31 L411.27,286.35 L412.10,286.39 L412.94,286.43 L413.77,286.47 L414.61,286.51 L415.44,286.55 L416.28,286.59 L417.11,286.63 L417.94,286.67 L418.78,286.70 L419.61,286.74 L420.45,286.78 L421.28,286.82 L422.12,286.85 L422.95,286.89 L423.79,286.93 L424.62,286.97 L425.46,287.00 L426.29,287.04 L427.13,287.07 L427.96,287.11 L428.79,287.14 L429.63,287.18 L430.46,287.21 L431.30,287.25 L432.13,287.28 L432.97,287.32 L433.80,287.35 L434.64,287.39 L435.47,287.42 L436.31,287.45 L437.14,287.49 L437.98,287.52 L438.81,287.55 L439.64,287.58 L440.48,287.61 L441.31,287.65 L442.15,287.68 L442.98,287.71 L443.82,287.74 L444.65,287.77 L445.49,287.80 L446.32,287.83 L447.16,287.86 L447.99,287.89 L448.83,287.92 L449.66,287.95 L450.49,287.98 L451.33,288.01 L452.16,288.04 L453.00,288.07 L453.83,288.10 L454.67,288.13 L455.50,288.16 L456.34,288.19 L457.17,288.21 L458.01,288.24 L458.84,288.27 L459.68,288.30 L460.51,288.32 L461.34,288.35 L462.18,288.38 L463.01,288.40 L463.85,288.43 L464.68,288.46 L465.52,288.48 L466.35,288.51 L467.19,288.54 L468.02,288.56 L468.86,288.59 L469.69,288.61 L470.52,288.64 L471.36,288.66 L472.19,288.69 L473.03,288.71 L473.86,288.74 L474.70,288.76 L475.53,288.79 L476.37,288.81 L477.20,288.83 L478.04,288.86 L478.87,288.88 L479.71,288.91 L480.54,288.93 L481.37,288.95 L482.21,288.97 L483.04,289.00 L483.88,289.02 L484.71,289.04 L485.55,289.07 L486.38,289.09 L487.22,289.11 L488.05,289.13 L488.89,289.15 L489.72,289.18 L490.56,289.20 L491.39,289.22 L492.22,289.24 L493.06,289.26 L493.89,289.28 L494.73,289.30 L495.56,289.33 L496.40,289.35 L497.23,289.37 L498.07,289.39 L498.90,289.41 L499.74,289.43 L500.57,289.45 L501.41,289.47 L502.24,289.49 L503.07,289.51 L503.91,289.53 L504.74,289.55 L505.58,289.57 L506.41,289.59 L507.25,289.61 L508.08,289.62 L508.92,289.64 L509.75,289.66 L510.59,289.68 L511.42,289.70 L512.25,289.72 L513.09,289.74 L513.92,289.75 L514.76,289.77 L515.59,289.79 L516.43,289.81 L517.26,289.83 L518.10,289.84 L518.93,289.86 L519.77,289.88 L520.60,289.90 L521.44,289.91 L522.27,289.93 L523.10,289.95 L523.94,289.97 L524.77,289.98 L525.61,290.00 L526.44,290.02 L527.28,290.03 L528.11,290.05 L528.95,290.07 L529.78,290.08 L530.62,290.10 L531.45,290.12 L532.29,290.13 L533.12,290.15 L533.95,290.16 L534.79,290.18 L535.62,290.19 L536.46,290.21 L537.29,290.23 L538.13,290.24 L538.96,290.26 L539.80,290.27 L540.63,290.29 L541.47,290.30 L542.30,290.32 L543.14,290.33 L543.97,290.35 L544.80,290.36 L545.64,290.38 L546.47,290.39 L547.31,290.41 L548.14,290.42 L548.98,290.43 L549.81,290.45 L550.65,290.46 L551.48,290.48 L552.32,290.49 L553.15,290.50 L553.98,290.52 L554.82,290.53 L555.65,290.55 L556.49,290.56 L557.32,290.57 L558.16,290.59 L558.99,290.60 L559.83,290.61 L560.66,290.63 L561.50,290.64 L562.33,290.65 L563.17,290.67 L564.00,290.68 L564.83,290.69 L565.67,290.71 L566.50,290.72 L567.34,290.73 L568.17,290.74 L569.01,290.76 L569.84,290.77 L570.68,290.78 L571.51,290.79 L572.35,290.81 L573.18,290.82 L574.02,290.83 L574.85,290.84 L575.68,290.85 L576.52,290.87 L577.35,290.88 L578.19,290.89 L579.02,290.90 L579.86,290.91 L580.69,290.93 L581.53,290.94 L582.36,290.95 L583.20,290.96 L584.03,290.97 L584.87,290.98 L585.70,290.99 L586.53,291.01 L587.37,291.02 L588.20,291.03 L589.04,291.04 L589.87,291.05 L590.71,291.06 L591.54,291.07" stroke="#0000ff"/>
<path d="M116.26,383.49 L116.35,379.90 L116.44,376.34 L116.53,372.82 L116.62,369.32 L116.70,365.86 L116.79,362.42 L116.88,359.02 L116.97,355.65 L117.06,352.31 L117.15,349.00 L117.24,345.71 L117.32,342.46 L117.41,339.24 L117.50,336.04 L117.59,332.88 L117.68,329.74 L117.77,326.63 L117.86,323.55 L117.94,320.50 L118.03,317.47 L118.12,314.48 L118.21,311.50 L118.30,308.56 L118.39,305.64 L118.48,302.75 L118.56,299.89 L118.65,297.05 L118.74,294.23 L118.83,291.45 L118.92,288.68 L119.01,285.95 L119.10,283.23 L119.18,280.55 L119.27,277.88 L119.36,275.24 L119.45,272.63 L119.54,270.04 L119.63,267.47 L119.72,264.93 L119.80,262.40 L119.89,259.91 L119.98,257.43 L120.07,254.98 L120.16,252.55 L120.25,250.14 L120.34,247.76 L120.42,245.39 L120.51,243.05 L120.60,240.73 L120.69,238.43 L120.78,236.15 L120.87,233.90 L120.96,231.66 L121.04,229.45 L121.13,227.25 L121.22,225.08 L121.31,222.92 L121.40,220.79 L121.49,218.68 L121.58,216.58 L121.66,214.51 L121.75,212.45 L121.84,210.42 L121.93,208.40 L122.02,206.40 L122.11,204.42 L122.20,202.46 L122.28,200.52 L122.37,198.59 L122.46,196.68 L122.55,194.80 L122.64,192.93 L122.73,191.07 L122.82,189.24 L122.90,187.42 L122.99,185.62 L123.08,183.83 L123.17,182.07 L123.26,180.32 L123.35,178.58 L123.44,176.87 L123.52,175.17 L123.61,173.48 L123.70,171.81 L123.79,170.16 L123.88,168.52 L123.97,166.90 L124.06,165.30 L124.14,163.71 L124.23,162.13 L124.32,160.58 L124.41,159.03 L124.50,157.50 L124.59,155.99 L124.68,154.49 L124.76,153.00 L124.85,151.53 L124.94,150.08 L125.03,148.64 L125.12,147.21 L125.21,145.80 L125.30,144.40 L125.39,143.01 L125.47,141.64 L125.56,140.28 L125.65,138.93 L125.74,137.60 L125.83,136.28 L125.92,134.98 L126.01,133.69 L126.09,132.41 L126.18,131.14 L126.27,129.89 L126.36,128.64 L126.45,127.42 L126.54,126.20 L126.63,124.99 L126.71,123.80 L126.80,122.62 L126.89,121.45 L126.98,120.30 L127.07,119.15 L127.16,118.02 L127.25,116.90 L127.33,115.79 L127.42,114.69 L127.51,113.61 L127.60,112.53 L127.69,111.47 L127.78,110.41 L127.87,109.37 L127.95,108.34 L128.04,107.32 L128.13,106.31 L128.22,105.31 L128.31,104.32 L128.40,103.34 L128.49,102.37 L128.57,101.42 L128.66,100.47 L128.75,99.53 L128.84,98.60 L128.93,97.69 L129.02,96.78 L129.11,95.88 L129.19,94.99 L129.28,94.11 L129.37,93.24 L129.46,92.38 L129.55,91.53 L129.64,90.69 L129.73,89.86 L129.81,89.04 L129.90,88.23 L129.99,87.42 L130.08,86.63 L130.17,85.84 L130.26,85.06 L130.35,84.29 L130.43,83.53 L130.52,82.78 L130.61,82.04 L130.70,81.30 L130.79,80.57 L130.88,79.86 L130.97,79.15 L131.05,78.44 L131.14,77.75 L131.23,77.07 L131.32,76.39 L131.41,75.72 L131.50,75.06 L131.59,74.40 L131.67,73.76 L131.76,73.12 L131.85,72.49 L131.94,71.86 L132.03,71.25 L132.12,70.64 L132.21,70.04 L132.29,69.44 L132.38,68.85 L132.47,68.27 L132.56,67.70 L132.65,67.14 L132.74,66.58 L132.83,66.03 L132.91,65.48 L133.00,64.94 L133.09,64.41 L133.18,63.89 L133.27,63.37 L133.36,62.86 L133.45,62.36 L133.53,61.86 L133.62,61.37 L133.71,60.88 L133.80,60.40 L133.89,59.93 L133.98,59.46 L134.07,59.00 L134.15,58.55 L134.24,58.10 L134.33,57.66 L134.42,57.23 L134.51,56.80 L134.60,56.37 L134.69,55.95 L134.77,55.54 L134.86,55.14 L134.95,54.73 L135.04,54.34 L135.13,53.95 L135.22,53.57 L135.31,53.19 L135.39,52.81 L135.48,52.45 L135.57,52.09 L135.66,51.73 L135.75,51.38 L135.84,51.03 L135.93,50.69 L136.01,50.35 L136.10,50.02 L136.19,49.70 L136.28,49.38 L136.37,49.06 L136.46,48.75 L136.55,48.45 L136.63,48.15 L136.72,47.85 L136.81,47.56 L136.90,47.27 L136.99,46.99 L137.08,46.72 L137.17,46.44 L137.25,46.18 L137.34,45.91 L137.43,45.66 L137.52,45.40 L137.61,45.15 L137.70,44.91 L137.79,44.67 L137.87,44.43 L137.96,44.20 L138.05,43.97 L138.14,43.75 L138.23,43.53 L138.32,43.31 L138.41,43.10 L138.49,42.90 L138.58,42.69 L138.67,42.50 L138.76,42.30 L138.85,42.11 L138.94,41.92 L139.03,41.74 L139.11,41.56 L139.20,41.39 L139.29,41.22 L139.38,41.05 L139.47,40.89 L139.56,40.73 L139.65,40.57 L139.73,40.42 L139.82,40.27 L139.91,40.12 L140.00,39.98 L140.09,39.84 L140.18,39.71 L140.27,39.58 L140.35,39.45 L140.44,39.33 L140.53,39.21 L140.62,39.09 L140.71,38.97 L140.80,38.86 L140.89,38.76 L140.97,38.65 L141.06,38.55 L141.15,38.45 L141.24,38.36 L141.33,38.27 L141.42,38.18 L141.51,38.09 L141.59,38.01 L141.68,37.93 L141.77,37.86 L141.86,37.78 L141.95,37.71 L142.04,37.65 L142.13,37.58 L142.21,37.52 L142.30,37.46 L142.39,37.41 L142.48,37.35 L142.57,37.30 L142.66,37.26 L142.75,37.21 L142.83,37.17 L142.92,37.13 L143.01,37.10 L143.10,37.06 L143.19,37.03 L143.28,37.00 L143.37,36.98 L143.45,36.95 L143.54,36.93 L143.63,36.92 L143.72,36.90 L143.81,36.89 L143.90,36.88 L143.99,36.87 L144.07,36.86 L144.16,36.86 L144.25,36.86 L144.34,36.86 L144.43,36.86 L144.52,36.87 L144.61,36.88 L144.69,36.89 L144.78,36.90 L144.87,36.92 L144.96,36.93 L145.05,36.95 L145.14,36.98 L145.23,37.00 L145.31,37.03 L145.40,37.05 L145.49,37.08 L145.58,37.12 L145.67,37.15 L145.76,37.19 L145.85,37.23 L145.93,37.27 L146.02,37.31 L146.11,37.35 L146.20,37.40 L146.29,37.45 L146.38,37.50 L146.47,37.55 L146.55,37.61 L146.64,37.66 L146.73,37.72 L146.82,37.78 L146.91,37.84 L147.00,37.91 L147.09,37.97 L147.17,38.04 L147.26,38.11 L147.35,38.18 L147.44,38.25 L147.53,38.32 L147.62,38.40 L147.71,38.48 L147.79,38.56 L147.88,38.64 L147.97,38.72 L148.06,38.80 L148.15,38.89 L148.24,38.98 L148.33,39.07 L148.41,39.16 L148.50,39.25 L148.59,39.34 L148.68,39.44 L148.77,39.54 L148.86,39.63 L148.95,39.73 L149.03,39.83 L149.12,39.94 L149.21,40.04 L149.30,40.15 L149.39,40.25 L149.48,40.36 L149.57,40.47 L149.65,40.58 L149.74,40.70 L149.83,40.81 L149.92,40.92 L150.01,41.04 L150.10,41.16 L150.19,41.28 L150.27,41.40 L150.36,41.52 L150.45,41.64 L150.54,41.77 L150.63,41.89 L150.72,42.02 L150.81,42.15 L150.89,42.28 L150.98,42.41 L151.07,42.54 L151.16,42.67 L151.25,42.81 L151.34,42.94 L151.43,43.08 L151.51,43.22 L151.60,43.35 L151.69,43.49 L151.78,43.63 L151.87,43.78 L151.96,43.92 L152.05,44.06 L152.13,44.21 L152.22,44.35 L152.31,44.50 L152.40,44.65 L152.49,44.80 L152.58,44.95 L152.67,45.10 L152.75,45.25 L152.84,45.41 L152.93,45.56 L153.02,45.71 L153.11,45.87 L153.20,46.03 L153.29,46.19 L153.37,46.34 L153.46,46.50 L153.55,46.67 L153.64,46.83 L153.73,46.99 L153.82,47.15 L153.91,47.32 L153.99,47.48 L154.08,47.65 L154.17,47.81 L154.26,47.98 L154.35,48.15 L154.44,48.32 L154.53,48.49 L154.62,48.66 L154.70,48.83 L154.79,49.00 L154.88,49.18 L154.97,49.35 L155.06,49.53 L155.15,49.70 L155.24,49.88 L155.32,50.06 L155.41,50.23 L155.50,50.41 L155.59,50.59 L155.68,50.77 L155.77,50.95 L155.86,51.13 L155.94,51.31 L156.03,51.50 L156.12,51.68 L156.21,51.86 L156.30,52.05 L156.39,52.23 L156.48,52.42 L156.56,52.61 L156.65,52.79 L156.74,52.98 L156.83,53.17 L156.92,53.36 L157.01,53.55 L157.10,53.74 L157.18,53.93 L157.27,54.12 L157.36,54.31 L157.45,54.50 L157.54,54.70 L157.63,54.89 L157.72,55.08 L157.80,55.28 L157.89,55.47 L157.98,55.67 L158.07,55.86 L158.16,56.06 L158.25,56.26 L158.34,56.45 L158.42,56.65 L158.51,56.85 L158.60,57.05 L158.69,57.25 L158.78,57.45 L158.87,57.65 L158.96,57.85 L159.04,58.05 L159.13,58.25 L159.22,58.46 L159.31,58.66 L159.40,58.86 L159.49,59.07 L159.58,59.27 L159.66,59.47 L159.75,59.68 L159.84,59.88 L159.93,60.09 L160.02,60.30 L160.11,60.50 L160.20,60.71 L160.28,60.92 L160.37,61.12 L160.46,61.33 L160.55,61.54 L160.64,61.75 L160.73,61.96 L160.82,62.17 L160.90,62.38 L160.99,62.59 L161.08,62.80 L161.17,63.01 L161.26,63.22 L161.35,63.43 L161.44,63.64 L161.52,63.85 L161.61,64.06 L161.70,64.28 L161.79,64.49 L161.88,64.70 L161.97,64.91 L162.06,65.13 L162.14,65.34 L162.23,65.56 L162.32,65.77 L162.41,65.98 L162.50,66.20 L162.59,66.41 L162.68,66.63 L162.76,66.85 L162.85,67.06 L162.94,67.28 L163.03,67.49 L163.12,67.71 L163.21,67.93 L163.30,68.14 L163.38,68.36 L163.47,68.58 L163.56,68.80 L163.65,69.01 L163.74,69.23 L163.83,69.45 L163.92,69.67 L164.00,69.89 L164.09,70.11 L164.18,70.32 L164.27,70.54 L164.36,70.76 L164.45,70.98 L164.54,71.20 L164.62,71.42 L164.71,71.64 L164.80,71.86 L164.89,72.08 L164.98,72.30 L165.07,72.52 L165.16,72.74 L165.24,72.97 L165.33,73.19 L165.42,73.41 L165.51,73.63 L165.60,73.85 L165.69,74.07 L165.78,74.29 L165.86,74.52 L165.95,74.74 L166.04,74.96 L166.13,75.18 L166.22,75.40 L166.31,75.63 L166.40,75.85 L166.48,76.07 L166.57,76.29 L166.66,76.52 L166.75,76.74 L166.84,76.96 L166.93,77.18 L167.02,77.41 L167.10,77.63 L167.19,77.85 L167.28,78.08 L167.37,78.30 L167.46,78.52 L167.55,78.75 L167.64,78.97 L167.72,79.19 L167.81,79.42 L167.90,79.64 L167.99,79.86 L168.08,80.09 L168.17,80.31 L168.26,80.54 L168.34,80.76 L168.43,80.98 L168.52,81.21 L168.61,81.43 L168.70,81.66 L168.79,81.88 L168.88,82.10 L168.96,82.33 L169.05,82.55 L169.14,82.78 L169.23,83.00 L169.32,83.22 L169.41,83.45 L169.50,83.67 L169.58,83.90 L169.67,84.12 L169.76,84.35 L169.85,84.57 L169.94,84.79 L170.03,85.02 L170.12,85.24 L170.20,85.47 L170.29,85.69 L170.38,85.91 L170.47,86.14 L170.56,86.36 L170.65,86.59 L170.74,86.81 L170.82,87.04 L170.91,87.26 L171.00,87.48 L171.09,87.71 L171.18,87.93 L171.27,88.15 L171.36,88.38 L171.44,88.60 L171.53,88.83 L171.62,89.05 L171.71,89.27 L171.80,89.50 L171.89,89.72 L171.98,89.94 L172.06,90.17 L172.15,90.39 L172.24,90.61 L172.33,90.84 L172.42,91.06 L172.51,91.28 L172.60,91.51 L172.68,91.73 L172.77,91.95 L172.86,92.18 L172.95,92.40 L173.04,92.62 L173.13,92.85 L173.22,93.07 L173.30,93.29 L173.39,93.51 L173.48,93.74 L173.57,93.96 L173.66,94.18 L173.75,94.40 L173.84,94.62 L173.92,94.85 L174.01,95.07 L174.10,95.29 L174.19,95.51 L174.28,95.73 L174.37,95.96 L174.46,96.18 L174.54,96.40 L174.63,96.62 L174.72,96.84 L174.81,97.06 L174.90,97.28 L174.99,97.50 L175.08,97.73 L175.91,99.80 L176.75,101.87 L177.58,103.92 L178.41,105.96 L179.25,107.99 L180.08,110.01 L180.92,112.01 L181.75,114.00 L182.59,115.97 L183.42,117.92 L184.26,119.86 L185.09,121.78 L185.93,123.69 L186.76,125.58 L187.60,127.45 L188.43,129.30 L189.26,131.14 L190.10,132.95 L190.93,134.75 L191.77,136.53 L192.60,138.29 L193.44,140.03 L194.27,141.76 L195.11,143.46 L195.94,145.15 L196.78,146.81 L197.61,148.46 L198.44,150.09 L199.28,151.70 L200.11,153.29 L200.95,154.87 L201.78,156.42 L202.62,157.96 L203.45,159.48 L204.29,160.98 L205.12,162.46 L205.96,163.93 L206.79,165.37 L207.63,166.80 L208.46,168.22 L209.29,169.61 L210.13,170.99 L210.96,172.35 L211.80,173.69 L212.63,175.02 L213.47,176.33 L214.30,177.62 L215.14,178.90 L215.97,180.16 L216.81,181.41 L217.64,182.64 L218.48,183.86 L219.31,185.06 L220.14,186.24 L220.98,187.41 L221.81,188.56 L222.65,189.70 L223.48,190.83 L224.32,191.94 L225.15,193.04 L225.99,194.12 L226.82,195.19 L227.66,196.25 L228.49,197.29 L229.33,198.32 L230.16,199.34 L230.99,200.34 L231.83,201.33 L232.66,202.31 L233.50,203.27 L234.33,204.23 L235.17,205.17 L236.00,206.10 L236.84,207.02 L237.67,207.92 L238.51,208.82 L239.34,209.70 L240.17,210.57 L241.01,211.43 L241.84,212.28 L242.68,213.12 L243.51,213.95 L244.35,214.77 L245.18,215.58 L246.02,216.38 L246.85,217.17 L247.69,217.95 L248.52,218.71 L249.36,219.47 L250.19,220.22 L251.02,220.96 L251.86,221.70 L252.69,222.42 L253.53,223.13 L254.36,223.84 L255.20,224.53 L256.03,225.22 L256.87,225.90 L257.70,226.57 L258.54,227.23 L259.37,227.89 L260.21,228.53 L261.04,229.17 L261.87,229.80 L262.71,230.42 L263.54,231.04 L264.38,231.65 L265.21,232.25 L266.05,232.84 L266.88,233.43 L267.72,234.01 L268.55,234.58 L269.39,235.14 L270.22,235.70 L271.06,236.26 L271.89,236.80 L272.72,237.34 L273.56,237.87 L274.39,238.40 L275.23,238.92 L276.06,239.43 L276.90,239.94 L277.73,240.44 L278.57,240.94 L279.40,241.43 L280.24,241.91 L281.07,242.39 L281.90,242.87 L282.74,243.33 L283.57,243.80 L284.41,244.25 L285.24,244.70 L286.08,245.15 L286.91,245.59 L287.75,246.03 L288.58,246.46 L289.42,246.89 L290.25,247.31 L291.09,247.73 L291.92,248.14 L292.75,248.54 L293.59,248.95 L294.42,249.35 L295.26,249.74 L296.09,250.13 L296.93,250.51 L297.76,250.90 L298.60,251.27 L299.43,251.64 L300.27,252.01 L301.10,252.38 L301.94,252.74 L302.77,253.09 L303.60,253.44 L304.44,253.79 L305.27,254.14 L306.11,254.48 L306.94,254.81 L307.78,255.15 L308.61,255.48 L309.45,255.80 L310.28,256.13 L311.12,256.45 L311.95,256.76 L312.79,257.07 L313.62,257.38 L314.45,257.69 L315.29,257.99 L316.12,258.29 L316.96,258.59 L317.79,258.88 L318.63,259.17 L319.46,259.45 L320.30,259.74 L321.13,260.02 L321.97,260.30 L322.80,260.57 L323.64,260.84 L324.47,261.11 L325.30,261.38 L326.14,261.64 L326.97,261.90 L327.81,262.16 L328.64,262.42 L329.48,262.67 L330.31,262.92 L331.15,263.17 L331.98,263.41 L332.82,263.65 L333.65,263.89 L334.48,264.13 L335.32,264.37 L336.15,264.60 L336.99,264.83 L337.82,265.06 L338.66,265.28 L339.49,265.51 L340.33,265.73 L341.16,265.95 L342.00,266.16 L342.83,266.38 L343.67,266.59 L344.50,266.80 L345.33,267.01 L346.17,267.22 L347.00,267.42 L347.84,267.62 L348.67,267.82 L349.51,268.02 L350.34,268.22 L351.18,268.41 L352.01,268.60 L352.85,268.79 L353.68,268.98 L354.52,269.17 L355.35,269.36 L356.18,269.54 L357.02,269.72 L357.85,269.90 L358.69,270.08 L359.52,270.26 L360.36,270.43 L361.19,270.60 L362.03,270.78 L362.86,270.94 L363.70,271.11 L364.53,271.28 L365.37,271.44 L366.20,271.61 L367.03,271.77 L367.87,271.93 L368.70,272.09 L369.54,272.25 L370.37,272.40 L371.21,272.56 L372.04,272.71 L372.88,272.86 L373.71,273.01 L374.55,273.16 L375.38,273.31 L376.21,273.46 L377.05,273.60 L377.88,273.74 L378.72,273.89 L379.55,274.03 L380.39,274.17 L381.22,274.31 L382.06,274.44 L382.89,274.58 L383.73,274.71 L384.56,274.85 L385.40,274.98 L386.23,275.11 L387.06,275.24 L387.90,275.37 L388.73,275.50 L389.57,275.62 L390.40,275.75 L391.24,275.87 L392.07,276.00 L392.91,276.12 L393.74,276.24 L394.58,276.36 L395.41,276.48 L396.25,276.59 L397.08,276.71 L397.91,276.83 L398.75,276.94 L399.58,277.06 L400.42,277.17 L401.25,277.28 L402.09,277.39 L402.92,277.50 L403.76,277.61 L404.59,277.72 L405.43,277.82 L406.26,277.93 L407.10,278.04 L407.93,278.14 L408.76,278.24 L409.60,278.35 L410.43,278.45 L411.27,278.55 L412.10,278.65 L412.94,278.75 L413.77,278.85 L414.61,278.94 L415.44,279.04 L416.28,279.14 L417.11,279.23 L417.94,279.33 L418.78,279.42 L419.61,279.51 L420.45,279.60 L421.28,279.70 L422.12,279.79 L422.95,279.88 L423.79,279.96 L424.62,280.05 L425.46,280.14 L426.29,280.23 L427.13,280.31 L427.96,280.40 L428.79,280.48 L429.63,280.57 L430.46,280.65 L431.30,280.73 L432.13,280.81 L432.97,280.90 L433.80,280.98 L434.64,281.06 L435.47,281.14 L436.31,281.21 L437.14,281.29 L437.98,281.37 L438.81,281.45 L439.64,281.52 L440.48,281.60 L441.31,281.67 L442.15,281.75 L442.98,281.82 L443.82,281.90 L444.65,281.97 L445.49,282.04 L446.32,282.11 L447.16,282.18 L447.99,282.25 L448.83,282.32 L449.66,282.39 L450.49,282.46 L451.33,282.53 L452.16,282.60 L453.00,282.66 L453.83,282.73 L454.67,282.80 L455.50,282.86 L456.34,282.93 L457.17,282.99 L458.01,283.06 L458.84,283.12 L459.68,283.18 L460.51,283.25 L461.34,283.31 L462.18,283.37 L463.01,283.43 L463.85,283.49 L464.68,283.55 L465.52,283.61 L466.35,283.67 L467.19,283.73 L468.02,283.79 L468.86,283.85 L469.69,283.91 L470.52,283.96 L471.36,284.02 L472.19,284.08 L473.03,284.13 L473.86,284.19 L474.70,284.24 L475.53,284.30 L476.37,284.35 L477.20,284.41 L478.04,284.46 L478.87,284.51 L479.71,284.57 L480.54,284.62 L481.37,284.67 L482.21,284.72 L483.04,284.77 L483.88,284.82 L484.71,284.87 L485.55,284.92 L486.38,284.97 L487.22,285.02 L488.05,285.07 L488.89,285.12 L489.72,285.17 L490.56,285.22 L491.39,285.27 L492.22,285.31 L493.06,285.36 L493.89,285.41 L494.73,285.45 L495.56,285.50 L496.40,285.54 L497.23,285.59 L498.07,285.64 L498.90,285.68 L499.74,285.72 L500.57,285.77 L501.41,285.81 L502.24,285.86 L503.07,285.90 L503.91,285.94 L504.74,285.98 L505.58,286.03 L506.41,286.07 L507.25,286.11 L508.08,286.15 L508.92,286.19 L509.75,286.23 L510.59,286.27 L511.42,286.31 L512.25,286.35 L513.09,286.39 L513.92,286.43 L514.76,286.47 L515.59,286.51 L516.43,286.55 L517.26,286.59 L518.10,286.63 L518.93,286.67 L519.77,286.70 L520.60,286.74 L521.44,286.78 L522.27,286.81 L523.10,286.85 L523.94,286.89 L524.77,286.92 L525.61,286.96 L526.44,286.99 L527.28,287.03 L528.11,287.07 L528.95,287.10 L529.78,287.14 L530.62,287.17 L531.45,287.20 L532.29,287.24 L533.12,287.27 L533.95,287.31 L534.79,287.34 L535.62,287.37 L536.46,287.40 L537.29,287.44 L538.13,287.47 L538.96,287.50 L539.80,287.53 L540.63,287.57 L541.47,287.60 L542.30,287.63 L543.14,287.66 L543.97,287.69 L544.80,287.72 L545.64,287.75 L546.47,287.78 L547.31,287.81 L548.14,287.84 L548.98,287.87 L549.81,287.90 L550.65,287.93 L551.48,287.96 L552.32,287.99 L553.15,288.02 L553.98,288.05 L554.82,288.08 L555.65,288.11 L556.49,288.13 L557.32,288.16 L558.16,288.19 L558.99,288.22 L559.83,288.24 L560.66,288.27 L561.50,288.30 L562.33,288.33 L563.17,288.35 L564.00,288.38 L564.83,288.41 L565.67,288.43 L566.50,288.46 L567.34,288.48 L568.17,288.51 L569.01,288.54 L569.84,288.56 L570.68,288.59 L571.51,288.61 L572.35,288.64 L573.18,288.66 L574.02,288.69 L574.85,288.71 L575.68,288.74 L576.52,288.76 L577.35,288.78 L578.19,288.81 L579.02,288.83 L579.86,288.86 L580.69,288.88 L581.53,288.90 L582.36,288.93 L583.20,288.95 L584.03,288.97 L584.87,288.99 L585.70,289.02 L586.53,289.04 L587.37,289.06 L588.20,289.08 L589.04,289.11 L589.87,289.13 L590.71,289.15 L591.54,289.17" stroke="#ff8000"/>
<path d="M127.59,370.35 L127.61,365.73 L127.62,361.11 L127.65,356.49 L127.67,351.87 L127.69,347.25 L127.72,342.63 L127.75,338.01 L127.78,333.39 L127.81,328.77 L127.84,324.15 L127.88,319.53 L127.92,314.91 L127.96,310.29 L128.00,305.67 L128.04,301.05 L128.09,296.43 L128.14,291.81 L128.18,287.19 L128.24,282.57 L128.29,277.94 L128.34,273.32 L128.40,268.70 L128.46,264.08 L128.52,259.46 L128.58,254.84 L128.65,250.22 L128.71,245.60 L128.78,240.98 L128.85,236.36 L128.92,231.74 L128.99,227.12 L129.07,222.50 L129.15,217.88 L129.23,213.26 L129.31,208.64 L129.39,204.02 L129.47,199.40 L129.56,194.78 L129.65,190.16 L129.74,185.54 L129.83,180.92 L129.93,176.30 L130.02,171.68 L130.12,167.06 L130.22,162.44 L130.32,157.82 L130.43,153.20 L130.53,148.58 L130.64,143.96 L130.75,139.34 L130.86,134.72 L130.97,130.10 L131.09,125.48 L131.20,120.86 L131.32,116.24 L131.44,111.62 L131.56,107.00 L131.69,102.38 L131.81,97.76 L131.94,93.13 L132.07,88.51 L132.20,83.89 L132.34,79.27 L132.47,74.65 L132.61,70.03 L132.75,65.41 L132.89,60.79 L133.03,56.17 L133.18,51.55 L133.32,46.93 L133.47,42.31 L133.62,37.69 L133.78,33.07 L133.93,28.45 L134.09,23.83 L134.24,19.21 L134.40,14.59 L134.56,9.97 L134.73,5.35" stroke="#ffff00"/>
<path d="M194.67,-28.20 L195.67,-23.67 L196.66,-19.21 L197.66,-14.79 L198.65,-10.44 L199.65,-6.14 L200.64,-1.90 L201.64,2.28 L202.63,6.40 L203.63,10.47 L204.62,14.49 L205.62,18.44 L206.61,22.35 L207.60,26.19 L208.60,29.99 L209.59,33.73 L210.59,37.41 L211.58,41.04 L212.58,44.62 L213.57,48.15 L214.57,51.63 L215.56,55.06 L216.56,58.43 L217.55,61.76 L218.55,65.04 L219.54,68.26 L220.54,71.45 L221.53,74.58 L222.52,77.66 L223.52,80.70 L224.51,83.70 L225.51,86.65 L226.50,89.55 L227.50,92.41 L228.49,95.23 L229.49,98.01 L230.48,100.74 L231.48,103.43 L232.47,106.08 L233.47,108.69 L234.46,111.26 L235.46,113.79 L236.45,116.28 L237.44,118.74 L238.44,121.15 L239.43,123.53 L240.43,125.87 L241.42,128.18 L242.42,130.45 L243.41,132.69 L244.41,134.89 L245.40,137.06 L246.40,139.19 L247.39,141.29 L248.39,143.36 L249.38,145.40 L250.38,147.41 L251.37,149.38 L252.36,151.33 L253.36,153.24 L254.35,155.13 L255.35,156.98 L256.34,158.81 L257.34,160.61 L258.33,162.39 L259.33,164.13 L260.32,165.85 L261.32,167.54 L262.31,169.21 L263.31,170.85 L264.30,172.47 L265.29,174.06 L266.29,175.63 L267.28,177.17 L268.28,178.69 L269.27,180.19 L270.27,181.66 L271.26,183.11 L272.26,184.54 L273.25,185.95 L274.25,187.34 L275.24,188.70 L276.24,190.05 L277.23,191.37 L278.23,192.68 L279.22,193.96 L280.21,195.23 L281.21,196.48 L282.20,197.70 L283.20,198.92 L284.19,200.11 L285.19,201.28 L286.18,202.44 L287.18,203.58 L288.17,204.70 L289.17,205.81 L290.16,206.90 L291.16,207.97 L292.15,209.03 L293.15,210.07 L294.14,211.10 L295.13,212.11 L296.13,213.11 L297.12,214.09 L298.12,215.06 L299.11,216.01 L300.11,216.95 L301.10,217.88 L302.10,218.79 L303.09,219.69 L304.09,220.58 L305.08,221.45 L306.08,222.31 L307.07,223.16 L308.07,224.00 L309.06,224.82 L310.05,225.64 L311.05,226.44 L312.04,227.23 L313.04,228.01 L314.03,228.77 L315.03,229.53 L316.02,230.28 L317.02,231.01 L318.01,231.74 L319.01,232.45 L320.00,233.16 L321.00,233.85 L321.99,234.54 L322.98,235.21 L323.98,235.88 L324.97,236.54 L325.97,237.18 L326.96,237.82 L327.96,238.45 L328.95,239.08 L329.95,239.69 L330.94,240.29 L331.94,240.89 L332.93,241.48 L333.93,242.06 L334.92,242.63 L335.92,243.19 L336.91,243.75 L337.90,244.30 L338.90,244.84 L339.89,245.37 L340.89,245.90 L341.88,246.42 L342.88,246.93 L343.87,247.44 L344.87,247.94 L345.86,248.43 L346.86,248.92 L347.85,249.40 L348.85,249.87 L349.84,250.34 L350.84,250.80 L351.83,251.25 L352.82,251.70 L353.82,252.14 L354.81,252.58 L355.81,253.01 L356.80,253.44 L357.80,253.86 L358.79,254.27 L359.79,254.68 L360.78,255.09 L361.78,255.49 L362.77,255.88 L363.77,256.27 L364.76,256.65 L365.76,257.03 L366.75,257.40 L367.74,257.77 L368.74,258.14 L369.73,258.50 L370.73,258.85 L371.72,259.20 L372.72,259.55 L373.71,259.89 L374.71,260.23 L375.70,260.56 L376.70,260.89 L377.69,261.22 L378.69,261.54 L379.68,261.85 L380.68,262.17 L381.67,262.48 L382.66,262.78 L383.66,263.08 L384.65,263.38 L385.65,263.68 L386.64,263.97 L387.64,264.25 L388.63,264.54 L389.63,264.82 L390.62,265.10 L391.62,265.37 L392.61,265.64 L393.61,265.91 L394.60,266.17 L395.59,266.43 L396.59,266.69 L397.58,266.94 L398.58,267.19 L399.57,267.44 L400.57,267.69 L401.56,267.93 L402.56,268.17 L403.55,268.40 L404.55,268.64 L405.54,268.87 L406.54,269.10 L407.53,269.32 L408.53,269.55 L409.52,269.77 L410.51,269.98 L411.51,270.20 L412.50,270.41 L413.50,270.62 L414.49,270.83 L415.49,271.04 L416.48,271.24 L417.48,271.44 L418.47,271.64 L419.47,271.84 L420.46,272.03 L421.46,272.22 L422.45,272.41 L423.45,272.60 L424.44,272.78 L425.43,272.97 L426.43,273.15 L427.42,273.33 L428.42,273.51 L429.41,273.68 L430.41,273.85 L431.40,274.03 L432.40,274.19 L433.39,274.36 L434.39,274.53 L435.38,274.69 L436.38,274.85 L437.37,275.01 L438.37,275.17 L439.36,275.33 L440.35,275.48 L441.35,275.64 L442.34,275.79 L443.34,275.94 L444.33,276.09 L445.33,276.24 L446.32,276.38 L447.32,276.52 L448.31,276.67 L449.31,276.81 L450.30,276.95 L451.30,277.08 L452.29,277.22 L453.28,277.35 L454.28,277.49 L455.27,277.62 L456.27,277.75 L457.26,277.88 L458.26,278.01 L459.25,278.13 L460.25,278.26 L461.24,278.38 L462.24,278.50 L463.23,278.63 L464.23,278.75 L465.22,278.86 L466.22,278.98 L467.21,279.10 L468.20,279.21 L469.20,279.33 L470.19,279.44 L471.19,279.55 L472.18,279.66 L473.18,279.77 L474.17,279.88 L475.17,279.99 L476.16,280.09 L477.16,280.20 L478.15,280.30 L479.15,280.40 L480.14,280.50 L481.14,280.60 L482.13,280.70 L483.12,280.80 L484.12,280.90 L485.11,281.00 L486.11,281.09 L487.10,281.19 L488.10,281.28 L489.09,281.38 L490.09,281.47 L491.08,281.56 L492.08,281.65 L493.07,281.74 L494.07,281.83 L495.06,281.91 L496.06,282.00 L497.05,282.09 L498.04,282.17 L499.04,282.26 L500.03,282.34 L501.03,282.42 L502.02,282.50 L503.02,282.58 L504.01,282.66 L505.01,282.74 L506.00,282.82 L507.00,282.90 L507.99,282.98 L508.99,283.05 L509.98,283.13 L510.97,283.21 L511.97,283.28 L512.96,283.35 L513.96,283.43 L514.95,283.50 L515.95,283.57 L516.94,283.64 L517.94,283.71 L518.93,283.78 L519.93,283.85 L520.92,283.92 L521.92,283.99 L522.91,284.05 L523.91,284.12 L524.90,284.19 L525.89,284.25 L526.89,284.32 L527.88,284.38 L528.88,284.44 L529.87,284.51 L530.87,284.57 L531.86,284.63 L532.86,284.69 L533.85,284.75 L534.85,284.81 L535.84,284.87 L536.84,284.93 L537.83,284.99 L538.83,285.05 L539.82,285.10 L540.81,285.16 L541.81,285.22 L542.80,285.27 L543.80,285.33 L544.79,285.38 L545.79,285.44 L546.78,285.49 L547.78,285.55 L548.77,285.60 L549.77,285.65 L550.76,285.70 L551.76,285.75 L552.75,285.81 L553.75,285.86 L554.74,285.91 L555.73,285.96 L556.73,286.01 L557.72,286.06 L558.72,286.10 L559.71,286.15 L560.71,286.20 L561.70,286.25 L562.70,286.29 L563.69,286.34 L564.69,286.39 L565.68,286.43 L566.68,286.48 L567.67,286.52 L568.66,286.57 L569.66,286.61 L570.65,286.66 L571.65,286.70 L572.64,286.74 L573.64,286.78 L574.63,286.83 L575.63,286.87 L576.62,286.91 L577.62,286.95 L578.61,286.99 L579.61,287.03 L580.60,287.07 L581.60,287.11 L582.59,287.15 L583.58,287.19 L584.58,287.23 L585.57,287.27 L586.57,287.31 L587.56,287.35 L588.56,287.38 L589.55,287.42 L590.55,287.46 L591.54,287.50" stroke="#ffff00"/>
<path d="M130.24,370.35 L130.26,365.73 L130.29,361.11 L130.31,356.49 L130.34,351.87 L130.36,347.25 L130.38,342.63 L130.41,338.01 L130.43,333.39 L130.46,328.77 L130.48,324.15 L130.50,319.53 L130.53,314.91 L130.55,310.29 L130.58,305.67 L130.60,301.05 L130.63,296.43 L130.65,291.81 L130.68,287.19 L130.71,282.57 L130.73,277.94 L130.76,273.32 L130.78,268.70 L130.81,264.08 L130.84,259.46 L130.86,254.84 L130.89,250.22 L130.92,245.60 L130.94,240.98 L130.97,236.36 L131.00,231.74 L131.02,227.12 L131.05,222.50 L131.08,217.88 L131.11,213.26 L131.13,208.64 L131.16,204.02 L131.19,199.40 L131.22,194.78 L131.25,190.16 L131.27,185.54 L131.30,180.92 L131.33,176.30 L131.36,171.68 L131.39,167.06 L131.42,162.44 L131.45,157.82 L131.48,153.20 L131.51,148.58 L131.54,143.96 L131.57,139.34 L131.59,134.72 L131.62,130.10 L131.65,125.48 L131.69,120.86 L131.72,116.24 L131.75,111.62 L131.78,107.00 L131.81,102.38 L131.84,97.76 L131.87,93.13 L131.90,88.51 L131.93,83.89 L131.96,79.27 L131.99,74.65 L132.03,70.03 L132.06,65.41 L132.09,60.79 L132.12,56.17 L132.15,51.55 L132.19,46.93 L132.22,42.31 L132.25,37.69 L132.28,33.07 L132.32,28.45 L132.35,23.83 L132.38,19.21 L132.42,14.59 L132.45,9.97 L132.48,5.35" stroke="#ff0000"/>
<path d="M251.29,-39.37 L252.14,-34.97 L253.00,-30.64 L253.85,-26.39 L254.70,-22.19 L255.56,-18.07 L256.41,-14.01 L257.26,-10.01 L258.11,-6.08 L258.97,-2.20 L259.82,1.61 L260.67,5.37 L261.53,9.07 L262.38,12.71 L263.23,16.29 L264.08,19.82 L264.94,23.30 L265.79,26.72 L266.64,30.09 L267.49,33.41 L268.35,36.68 L269.20,39.90 L270.05,43.08 L270.91,46.20 L271.76,49.28 L272.61,52.31 L273.46,55.30 L274.32,58.24 L275.17,61.14 L276.02,64.00 L276.87,66.81 L277.73,69.58 L278.58,72.32 L279.43,75.01 L280.29,77.66 L281.14,80.28 L281.99,82.85 L282.84,85.39 L283.70,87.89 L284.55,90.36 L285.40,92.79 L286.26,95.19 L287.11,97.55 L287.96,99.87 L288.81,102.17 L289.67,104.43 L290.52,106.66 L291.37,108.86 L292.22,111.03 L293.08,113.16 L293.93,115.27 L294.78,117.35 L295.64,119.39 L296.49,121.41 L297.34,123.40 L298.19,125.37 L299.05,127.30 L299.90,129.21 L300.75,131.10 L301.60,132.95 L302.46,134.79 L303.31,136.59 L304.16,138.37 L305.02,140.13 L305.87,141.87 L306.72,143.58 L307.57,145.26 L308.43,146.93 L309.28,148.57 L310.13,150.19 L310.98,151.79 L311.84,153.36 L312.69,154.92 L313.54,156.45 L314.40,157.97 L315.25,159.46 L316.10,160.94 L316.95,162.39 L317.81,163.83 L318.66,165.24 L319.51,166.64 L320.37,168.02 L321.22,169.38 L322.07,170.73 L322.92,172.05 L323.78,173.36 L324.63,174.65 L325.48,175.93 L326.33,177.19 L327.19,178.43 L328.04,179.66 L328.89,180.87 L329.75,182.07 L330.60,183.25 L331.45,184.41 L332.30,185.56 L333.16,186.70 L334.01,187.82 L334.86,188.93 L335.71,190.02 L336.57,191.10 L337.42,192.17 L338.27,193.22 L339.13,194.26 L339.98,195.29 L340.83,196.30 L341.68,197.30 L342.54,198.29 L343.39,199.27 L344.24,200.23 L345.10,201.19 L345.95,202.13 L346.80,203.06 L347.65,203.98 L348.51,204.88 L349.36,205.78 L350.21,206.66 L351.06,207.54 L351.92,208.40 L352.77,209.25 L353.62,210.10 L354.48,210.93 L355.33,211.75 L356.18,212.57 L357.03,213.37 L357.89,214.16 L358.74,214.95 L359.59,215.72 L360.44,216.49 L361.30,217.24 L362.15,217.99 L363.00,218.73 L363.86,219.46 L364.71,220.18 L365.56,220.90 L366.41,221.60 L367.27,222.30 L368.12,222.99 L368.97,223.67 L369.83,224.34 L370.68,225.00 L371.53,225.66 L372.38,226.31 L373.24,226.95 L374.09,227.59 L374.94,228.22 L375.79,228.84 L376.65,229.45 L377.50,230.05 L378.35,230.65 L379.21,231.25 L380.06,231.83 L380.91,232.41 L381.76,232.98 L382.62,233.55 L383.47,234.11 L384.32,234.66 L385.17,235.21 L386.03,235.75 L386.88,236.29 L387.73,236.82 L388.59,237.34 L389.44,237.86 L390.29,238.37 L391.14,238.87 L392.00,239.38 L392.85,239.87 L393.70,240.36 L394.56,240.84 L395.41,241.32 L396.26,241.80 L397.11,242.26 L397.97,242.73 L398.82,243.19 L399.67,243.64 L400.52,244.09 L401.38,244.53 L402.23,244.97 L403.08,245.40 L403.94,245.83 L404.79,246.26 L405.64,246.68 L406.49,247.10 L407.35,247.51 L408.20,247.91 L409.05,248.32 L409.90,248.71 L410.76,249.11 L411.61,249.50 L412.46,249.88 L413.32,250.27 L414.17,250.64 L415.02,251.02 L415.87,251.39 L416.73,251.75 L417.58,252.12 L418.43,252.47 L419.29,252.83 L420.14,253.18 L420.99,253.53 L421.84,253.87 L422.70,254.21 L423.55,254.55 L424.40,254.88 L425.25,255.21 L426.11,255.54 L426.96,255.86 L427.81,256.18 L428.67,256.50 L429.52,256.81 L430.37,257.12 L431.22,257.43 L432.08,257.73 L432.93,258.03 L433.78,258.33 L434.63,258.63 L435.49,258.92 L436.34,259.21 L437.19,259.49 L438.05,259.78 L438.90,260.06 L439.75,260.33 L440.60,260.61 L441.46,260.88 L442.31,261.15 L443.16,261.42 L444.02,261.68 L444.87,261.94 L445.72,262.20 L446.57,262.46 L447.43,262.71 L448.28,262.96 L449.13,263.21 L449.98,263.46 L450.84,263.70 L451.69,263.94 L452.54,264.18 L453.40,264.42 L454.25,264.65 L455.10,264.89 L455.95,265.12 L456.81,265.35 L457.66,265.57 L458.51,265.79 L459.36,266.02 L460.22,266.24 L461.07,266.45 L461.92,266.67 L462.78,266.88 L463.63,267.09 L464.48,267.30 L465.33,267.51 L466.19,267.71 L467.04,267.92 L467.89,268.12 L468.75,268.32 L469.60,268.52 L470.45,268.71 L471.30,268.90 L472.16,269.10 L473.01,269.29 L473.86,269.48 L474.71,269.66 L475.57,269.85 L476.42,270.03 L477.27,270.21 L478.13,270.39 L478.98,270.57 L479.83,270.75 L480.68,270.92 L481.54,271.10 L482.39,271.27 L483.24,271.44 L484.09,271.61 L484.95,271.77 L485.80,271.94 L486.65,272.10 L487.51,272.27 L488.36,272.43 L489.21,272.59 L490.06,272.74 L490.92,272.90 L491.77,273.06 L492.62,273.21 L493.47,273.36 L494.33,273.51 L495.18,273.66 L496.03,273.81 L496.89,273.96 L497.74,274.11 L498.59,274.25 L499.44,274.39 L500.30,274.54 L501.15,274.68 L502.00,274.82 L502.86,274.95 L503.71,275.09 L504.56,275.23 L505.41,275.36 L506.27,275.50 L507.12,275.63 L507.97,275.76 L508.82,275.89 L509.68,276.02 L510.53,276.15 L511.38,276.27 L512.24,276.40 L513.09,276.52 L513.94,276.65 L514.79,276.77 L515.65,276.89 L516.50,277.01 L517.35,277.13 L518.20,277.25 L519.06,277.36 L519.91,277.48 L520.76,277.60 L521.62,277.71 L522.47,277.82 L523.32,277.94 L524.17,278.05 L525.03,278.16 L525.88,278.27 L526.73,278.38 L527.59,278.48 L528.44,278.59 L529.29,278.70 L530.14,278.80 L531.00,278.90 L531.85,279.01 L532.70,279.11 L533.55,279.21 L534.41,279.31 L535.26,279.41 L536.11,279.51 L536.97,279.61 L537.82,279.71 L538.67,279.80 L539.52,279.90 L540.38,279.99 L541.23,280.09 L542.08,280.18 L542.93,280.27 L543.79,280.36 L544.64,280.46 L545.49,280.55 L546.35,280.63 L547.20,280.72 L548.05,280.81 L548.90,280.90 L549.76,280.99 L550.61,281.07 L551.46,281.16 L552.32,281.24 L553.17,281.33 L554.02,281.41 L554.87,281.49 L555.73,281.57 L556.58,281.65 L557.43,281.73 L558.28,281.81 L559.14,281.89 L559.99,281.97 L560.84,282.05 L561.70,282.13 L562.55,282.20 L563.40,282.28 L564.25,282.36 L565.11,282.43 L565.96,282.51 L566.81,282.58 L567.66,282.65 L568.52,282.73 L569.37,282.80 L570.22,282.87 L571.08,282.94 L571.93,283.01 L572.78,283.08 L573.63,283.15 L574.49,283.22 L575.34,283.29 L576.19,283.35 L577.05,283.42 L577.90,283.49 L578.75,283.55 L579.60,283.62 L580.46,283.68 L581.31,283.75 L582.16,283.81 L583.01,283.88 L583.87,283.94 L584.72,284.00 L585.57,284.06 L586.43,284.13 L587.28,284.19 L588.13,284.25 L588.98,284.31 L589.84,284.37 L590.69,284.43 L591.54,284.49" stroke="#ff0000"/>
</g>
<path d="M33.1,293.9 H600.2 M44.7,12.299999999999999 V365.19" stroke="#000" stroke-width="2.45" fill="none"/>
<path d="M66.20,293.9 v-4.0 M87.97,293.9 v-4.0 M109.75,293.9 v-4.0 M131.52,293.9 v-4.0 M153.30,293.9 v-6.7 M175.08,293.9 v-4.0 M196.85,293.9 v-4.0 M218.63,293.9 v-4.0 M240.40,293.9 v-4.0 M262.18,293.9 v-6.7 M283.96,293.9 v-4.0 M305.73,293.9 v-4.0 M327.51,293.9 v-4.0 M349.28,293.9 v-4.0 M371.06,293.9 v-6.7 M392.84,293.9 v-4.0 M414.61,293.9 v-4.0 M436.39,293.9 v-4.0 M458.16,293.9 v-4.0 M479.94,293.9 v-6.7 M501.72,293.9 v-4.0 M523.49,293.9 v-4.0 M545.27,293.9 v-4.0 M567.04,293.9 v-4.0 M588.82,293.9 v-6.7 M44.7,363.97 h6.5 M44.7,349.96 h4.1 M44.7,335.94 h4.1 M44.7,321.93 h4.1 M44.7,307.91 h4.1 M44.7,279.89 h4.1 M44.7,265.87 h4.1 M44.7,251.86 h4.1 M44.7,237.84 h4.1 M44.7,223.83 h6.5 M44.7,209.82 h4.1 M44.7,195.80 h4.1 M44.7,181.79 h4.1 M44.7,167.77 h4.1 M44.7,153.76 h6.5 M44.7,139.75 h4.1 M44.7,125.73 h4.1 M44.7,111.72 h4.1 M44.7,97.70 h4.1 M44.7,83.69 h6.5 M44.7,69.68 h4.1 M44.7,55.66 h4.1 M44.7,41.65 h4.1 M44.7,27.63 h4.1 M44.7,13.62 h6.5" stroke="#000" stroke-width="2.35" fill="none"/>
<path d="M650.6,92.80 H685.3" stroke="#000000" stroke-width="2.9" fill="none"/>
<path d="M650.6,130.02 H685.3" stroke="#00ff00" stroke-width="2.9" fill="none"/>
<path d="M650.6,167.24 H685.3" stroke="#0000ff" stroke-width="2.9" fill="none"/>
<path d="M650.6,204.46 H685.3" stroke="#ff8000" stroke-width="2.9" fill="none"/>
<path d="M650.6,241.68 H685.3" stroke="#ffff00" stroke-width="2.9" fill="none"/>
<path d="M650.6,278.90 H685.3" stroke="#ff0000" stroke-width="2.9" fill="none"/>
</svg>
<div id="tx">
<div class="t yl" style="top:6.62px">0.04</div>
<div class="t yl" style="top:76.69px">0.03</div>
<div class="t yl" style="top:146.76px">0.02</div>
<div class="t yl" style="top:216.83px">0.01</div>
<div class="t yl" style="top:356.97px">−0.01</div>
<div class="t xl" style="left:133.30px;top:300.2px">10</div>
<div class="t xl" style="left:242.18px;top:300.2px">20</div>
<div class="t xl" style="left:351.06px;top:300.2px">30</div>
<div class="t xl" style="left:459.94px;top:300.2px">40</div>
<div class="t xl" style="left:568.82px;top:300.2px">50</div>
<div class="t" style="left:614.3px;top:285.7px;font-style:italic;font-size:15.2px;transform:none">q</div>
<div class="lg" style="top:79.65px">d=2</div>
<div class="lg" style="top:116.87px">d=3</div>
<div class="lg" style="top:154.09px">d=4</div>
<div class="lg" style="top:191.31px">d=5</div>
<div class="lg" style="top:228.53px">d=6</div>
<div class="lg" style="top:265.75px">d=7</div>
</div></div></body></html>
